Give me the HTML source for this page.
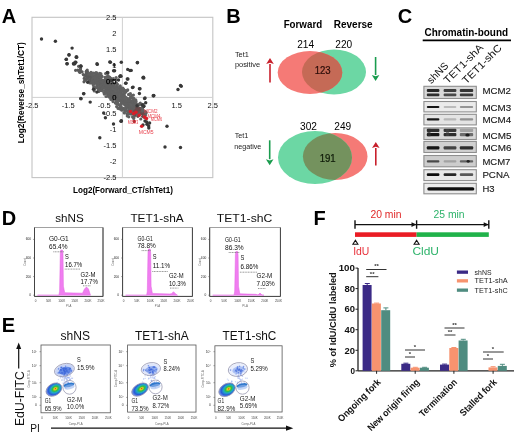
<!DOCTYPE html>
<html><head><meta charset="utf-8"><style>
html,body{margin:0;padding:0;background:#fff;}
body{width:520px;height:442px;overflow:hidden;}
svg{display:block;filter:blur(0.3px);}
text{font-family:"Liberation Sans",sans-serif;}
</style></head><body>
<svg width="520" height="442" viewBox="0 0 520 442">
<text x="1.8" y="23.3" font-size="20" font-weight="bold" fill="#000" text-anchor="start" >A</text>
<text x="226.3" y="23.4" font-size="20" font-weight="bold" fill="#000" text-anchor="start" >B</text>
<text x="397.7" y="23.3" font-size="20" font-weight="bold" fill="#000" text-anchor="start" >C</text>
<text x="1.7" y="224.5" font-size="20" font-weight="bold" fill="#000" text-anchor="start" >D</text>
<text x="1.7" y="331.8" font-size="20" font-weight="bold" fill="#000" text-anchor="start" >E</text>
<text x="313.6" y="224.5" font-size="20" font-weight="bold" fill="#000" text-anchor="start" >F</text>
<rect x="32" y="17.3" width="180.8" height="160.3" fill="none" stroke="#c4c4c4" stroke-width="1.1"/>
<line x1="122.4" y1="17.3" x2="122.4" y2="177.6" stroke="#d0d0d0" stroke-width="1"/>
<line x1="32" y1="97.4" x2="212.8" y2="97.4" stroke="#d0d0d0" stroke-width="1"/>
<text x="32.000000000000014" y="108.2" font-size="7.5" fill="#111" text-anchor="middle" >-2.5</text>
<text x="68.16000000000001" y="108.2" font-size="7.5" fill="#111" text-anchor="middle" >-1.5</text>
<text x="104.32000000000001" y="108.2" font-size="7.5" fill="#111" text-anchor="middle" >-0.5</text>
<text x="140.48000000000002" y="108.2" font-size="7.5" fill="#111" text-anchor="middle" >0.5</text>
<text x="176.64" y="108.2" font-size="7.5" fill="#111" text-anchor="middle" >1.5</text>
<text x="212.8" y="108.2" font-size="7.5" fill="#111" text-anchor="middle" >2.5</text>
<text x="123" y="192.6" font-size="8.5" font-weight="bold" fill="#000" text-anchor="middle" textLength="100" lengthAdjust="spacingAndGlyphs" >Log2(Forward_CT/shTet1)</text>
<g transform="translate(23.8,92.8) rotate(-90)"><text x="0" y="0" font-size="8.5" font-weight="bold" text-anchor="middle" textLength="101" lengthAdjust="spacingAndGlyphs">Log2(Reverse_shTet1/CT)</text></g>
<defs><linearGradient id="cloudG" gradientUnits="userSpaceOnUse" x1="118" y1="100" x2="146" y2="118"><stop offset="0" stop-color="#626262"/><stop offset="0.55" stop-color="#626262"/><stop offset="1" stop-color="#8a3a3a"/></linearGradient></defs>
<polygon points="86.8,72.7 90.3,73.9 93.9,75.1 97.5,76.7 101.0,77.9 104.8,80.1 107.7,81.2 111.4,83.7 116.8,88.6 121.9,92.5 125.4,95.3 130.0,98.5 133.1,101.4 136.3,104.4 139.9,107.5 142.6,110.5 145.5,113.2 145.4,115.4 140.3,114.8 135.4,113.3 130.0,110.6 125.5,107.6 122.9,104.9 120.4,102.8 117.7,100.0 114.3,97.6 110.7,94.8 108.1,92.3 104.7,90.0 101.4,88.0 98.7,87.3 95.5,84.6 92.1,81.2 89.1,77.5 87.2,74.4 86.7,72.4" fill="url(#cloudG)"/>
<circle cx="105.3" cy="77.4" r="1.6" fill="#606060"/>
<circle cx="118.7" cy="87.9" r="1.6" fill="#606060"/>
<circle cx="89.2" cy="74.4" r="1.6" fill="#606060"/>
<circle cx="92.6" cy="80.9" r="1.6" fill="#606060"/>
<circle cx="121.3" cy="89.4" r="1.6" fill="#606060"/>
<circle cx="93.9" cy="75.8" r="1.6" fill="#606060"/>
<circle cx="113.4" cy="84.7" r="1.6" fill="#606060"/>
<circle cx="135.0" cy="104.3" r="1.6" fill="#606060"/>
<circle cx="133.1" cy="98.1" r="1.6" fill="#606060"/>
<circle cx="128.7" cy="99.1" r="1.6" fill="#606060"/>
<circle cx="121.4" cy="92.4" r="1.6" fill="#606060"/>
<circle cx="137.9" cy="116.3" r="1.6" fill="#6a4a4a"/>
<circle cx="95.4" cy="75.7" r="1.6" fill="#606060"/>
<circle cx="93.0" cy="82.1" r="1.6" fill="#606060"/>
<circle cx="136.6" cy="112.3" r="1.6" fill="#6a4a4a"/>
<circle cx="102.4" cy="90.3" r="1.6" fill="#606060"/>
<circle cx="95.9" cy="81.4" r="1.6" fill="#606060"/>
<circle cx="117.4" cy="100.3" r="1.6" fill="#606060"/>
<circle cx="141.7" cy="108.2" r="1.6" fill="#6a4a4a"/>
<circle cx="140.1" cy="109.1" r="1.6" fill="#6a4a4a"/>
<circle cx="109.6" cy="89.5" r="1.6" fill="#606060"/>
<circle cx="88.7" cy="73.3" r="1.6" fill="#606060"/>
<circle cx="98.0" cy="78.0" r="1.6" fill="#606060"/>
<circle cx="100.7" cy="87.0" r="1.6" fill="#606060"/>
<circle cx="114.3" cy="93.7" r="1.6" fill="#606060"/>
<circle cx="90.2" cy="75.0" r="1.6" fill="#606060"/>
<circle cx="106.5" cy="83.0" r="1.6" fill="#606060"/>
<circle cx="139.4" cy="104.1" r="1.6" fill="#6a4a4a"/>
<circle cx="101.3" cy="88.0" r="1.6" fill="#606060"/>
<circle cx="105.6" cy="80.9" r="1.6" fill="#606060"/>
<circle cx="138.7" cy="109.5" r="1.6" fill="#6a4a4a"/>
<circle cx="136.5" cy="106.3" r="1.6" fill="#606060"/>
<circle cx="98.7" cy="81.1" r="1.6" fill="#606060"/>
<circle cx="97.2" cy="80.0" r="1.6" fill="#606060"/>
<circle cx="126.1" cy="109.2" r="1.6" fill="#606060"/>
<circle cx="142.3" cy="108.3" r="1.6" fill="#6a4a4a"/>
<circle cx="92.8" cy="77.4" r="1.6" fill="#606060"/>
<circle cx="142.0" cy="109.5" r="1.6" fill="#6a4a4a"/>
<circle cx="100.7" cy="84.4" r="1.6" fill="#606060"/>
<circle cx="101.2" cy="90.5" r="1.6" fill="#606060"/>
<circle cx="107.2" cy="92.4" r="1.6" fill="#606060"/>
<circle cx="116.5" cy="96.1" r="1.6" fill="#606060"/>
<circle cx="130.6" cy="97.3" r="1.6" fill="#606060"/>
<circle cx="100.5" cy="83.6" r="1.6" fill="#606060"/>
<circle cx="120.3" cy="107.2" r="1.6" fill="#606060"/>
<circle cx="123.5" cy="94.8" r="1.6" fill="#606060"/>
<circle cx="117.2" cy="103.9" r="1.6" fill="#606060"/>
<circle cx="113.4" cy="96.1" r="1.6" fill="#606060"/>
<circle cx="129.0" cy="113.0" r="1.6" fill="#606060"/>
<circle cx="134.3" cy="114.0" r="1.6" fill="#6a4a4a"/>
<circle cx="110.0" cy="93.9" r="1.6" fill="#606060"/>
<circle cx="117.4" cy="86.6" r="1.6" fill="#606060"/>
<circle cx="97.2" cy="85.6" r="1.6" fill="#606060"/>
<circle cx="119.8" cy="91.6" r="1.6" fill="#606060"/>
<circle cx="124.2" cy="95.1" r="1.6" fill="#606060"/>
<circle cx="91.4" cy="83.0" r="1.6" fill="#606060"/>
<circle cx="101.9" cy="76.3" r="1.6" fill="#606060"/>
<circle cx="120.9" cy="104.3" r="1.6" fill="#606060"/>
<circle cx="124.9" cy="109.3" r="1.6" fill="#606060"/>
<circle cx="113.5" cy="86.6" r="1.6" fill="#606060"/>
<circle cx="101.7" cy="76.3" r="1.6" fill="#606060"/>
<circle cx="91.7" cy="77.9" r="1.6" fill="#606060"/>
<circle cx="104.5" cy="84.9" r="1.6" fill="#606060"/>
<circle cx="131.1" cy="97.0" r="1.6" fill="#606060"/>
<circle cx="109.6" cy="94.8" r="1.6" fill="#606060"/>
<circle cx="129.5" cy="101.2" r="1.6" fill="#606060"/>
<circle cx="110.4" cy="87.0" r="1.6" fill="#606060"/>
<circle cx="88.2" cy="76.4" r="1.6" fill="#606060"/>
<circle cx="101.0" cy="78.0" r="1.6" fill="#606060"/>
<circle cx="102.6" cy="81.9" r="1.6" fill="#606060"/>
<circle cx="104.4" cy="87.5" r="1.6" fill="#606060"/>
<circle cx="114.8" cy="94.6" r="1.6" fill="#606060"/>
<circle cx="104.0" cy="81.4" r="1.6" fill="#606060"/>
<circle cx="121.8" cy="95.9" r="1.6" fill="#606060"/>
<circle cx="132.2" cy="102.2" r="1.6" fill="#606060"/>
<circle cx="130.1" cy="113.1" r="1.6" fill="#606060"/>
<circle cx="109.4" cy="86.0" r="1.6" fill="#606060"/>
<circle cx="130.6" cy="101.5" r="1.6" fill="#606060"/>
<circle cx="131.2" cy="109.8" r="1.6" fill="#606060"/>
<circle cx="135.7" cy="110.5" r="1.6" fill="#6a4a4a"/>
<circle cx="128.0" cy="104.0" r="1.6" fill="#606060"/>
<circle cx="120.1" cy="100.8" r="1.6" fill="#606060"/>
<circle cx="124.4" cy="103.4" r="1.6" fill="#606060"/>
<circle cx="135.2" cy="106.7" r="1.6" fill="#606060"/>
<circle cx="116.6" cy="96.2" r="1.6" fill="#606060"/>
<circle cx="116.0" cy="88.7" r="1.6" fill="#606060"/>
<circle cx="133.3" cy="100.2" r="1.6" fill="#606060"/>
<circle cx="94.1" cy="82.4" r="1.6" fill="#606060"/>
<circle cx="127.3" cy="103.9" r="1.6" fill="#606060"/>
<circle cx="117.4" cy="92.8" r="1.6" fill="#606060"/>
<circle cx="113.2" cy="83.2" r="1.6" fill="#606060"/>
<circle cx="113.3" cy="84.8" r="1.6" fill="#606060"/>
<circle cx="93.7" cy="86.9" r="1.6" fill="#606060"/>
<circle cx="108.3" cy="89.3" r="1.6" fill="#606060"/>
<circle cx="107.6" cy="91.0" r="1.6" fill="#606060"/>
<circle cx="100.6" cy="83.0" r="1.6" fill="#606060"/>
<circle cx="140.7" cy="109.8" r="1.6" fill="#6a4a4a"/>
<circle cx="132.4" cy="101.6" r="1.6" fill="#606060"/>
<circle cx="114.6" cy="86.8" r="1.6" fill="#606060"/>
<circle cx="120.0" cy="89.3" r="1.6" fill="#606060"/>
<circle cx="95.4" cy="77.9" r="1.6" fill="#606060"/>
<circle cx="97.0" cy="74.4" r="1.6" fill="#606060"/>
<circle cx="99.9" cy="82.7" r="1.6" fill="#606060"/>
<circle cx="111.0" cy="95.7" r="1.6" fill="#606060"/>
<circle cx="108.6" cy="86.6" r="1.6" fill="#606060"/>
<circle cx="116.6" cy="100.9" r="1.6" fill="#606060"/>
<circle cx="101.9" cy="82.2" r="1.6" fill="#606060"/>
<circle cx="110.1" cy="91.8" r="1.6" fill="#606060"/>
<circle cx="145.1" cy="111.6" r="1.6" fill="#6a4a4a"/>
<circle cx="137.0" cy="111.9" r="1.6" fill="#6a4a4a"/>
<circle cx="91.7" cy="77.6" r="1.6" fill="#606060"/>
<circle cx="117.8" cy="103.4" r="1.6" fill="#606060"/>
<circle cx="125.7" cy="107.5" r="1.6" fill="#606060"/>
<circle cx="113.7" cy="97.0" r="1.6" fill="#606060"/>
<circle cx="92.9" cy="82.3" r="1.6" fill="#606060"/>
<circle cx="125.0" cy="104.2" r="1.6" fill="#606060"/>
<circle cx="91.9" cy="73.4" r="1.6" fill="#606060"/>
<circle cx="117.9" cy="98.6" r="1.6" fill="#606060"/>
<circle cx="109.3" cy="81.0" r="1.6" fill="#606060"/>
<circle cx="103.9" cy="92.6" r="1.6" fill="#606060"/>
<circle cx="99.6" cy="82.1" r="1.6" fill="#606060"/>
<circle cx="116.3" cy="103.0" r="1.6" fill="#606060"/>
<circle cx="111.3" cy="82.6" r="1.6" fill="#606060"/>
<circle cx="106.2" cy="90.6" r="1.6" fill="#606060"/>
<circle cx="135.2" cy="106.2" r="1.6" fill="#606060"/>
<circle cx="98.9" cy="90.4" r="1.6" fill="#606060"/>
<circle cx="141.6" cy="113.3" r="1.6" fill="#6a4a4a"/>
<circle cx="108.4" cy="86.3" r="1.6" fill="#606060"/>
<circle cx="102.5" cy="87.2" r="1.6" fill="#606060"/>
<circle cx="97.0" cy="87.8" r="1.6" fill="#606060"/>
<circle cx="87.0" cy="73.1" r="1.6" fill="#606060"/>
<circle cx="132.0" cy="114.0" r="1.6" fill="#6a4a4a"/>
<circle cx="106.2" cy="83.3" r="1.6" fill="#606060"/>
<circle cx="104.8" cy="83.5" r="1.6" fill="#606060"/>
<circle cx="109.2" cy="82.3" r="1.6" fill="#606060"/>
<circle cx="112.0" cy="94.2" r="1.6" fill="#606060"/>
<circle cx="135.5" cy="106.2" r="1.6" fill="#606060"/>
<circle cx="136.8" cy="107.9" r="1.6" fill="#6a4a4a"/>
<circle cx="105.0" cy="87.7" r="1.6" fill="#606060"/>
<circle cx="99.6" cy="90.4" r="1.6" fill="#606060"/>
<circle cx="124.0" cy="103.0" r="1.6" fill="#606060"/>
<circle cx="132.1" cy="111.5" r="1.6" fill="#606060"/>
<circle cx="120.6" cy="88.3" r="1.6" fill="#606060"/>
<circle cx="100.4" cy="82.0" r="1.6" fill="#606060"/>
<circle cx="135.9" cy="102.0" r="1.6" fill="#606060"/>
<circle cx="137.9" cy="114.8" r="1.6" fill="#6a4a4a"/>
<circle cx="92.3" cy="79.3" r="1.6" fill="#606060"/>
<circle cx="122.5" cy="100.4" r="1.6" fill="#606060"/>
<circle cx="98.6" cy="88.1" r="1.6" fill="#606060"/>
<circle cx="93.7" cy="80.0" r="1.6" fill="#606060"/>
<circle cx="104.5" cy="80.0" r="1.6" fill="#606060"/>
<circle cx="88.8" cy="75.0" r="1.6" fill="#606060"/>
<circle cx="109.8" cy="97.0" r="1.6" fill="#606060"/>
<circle cx="110.7" cy="83.9" r="1.6" fill="#606060"/>
<circle cx="107.4" cy="90.4" r="1.6" fill="#606060"/>
<circle cx="107.8" cy="79.7" r="1.6" fill="#606060"/>
<circle cx="108.2" cy="94.7" r="1.6" fill="#606060"/>
<circle cx="94.0" cy="83.9" r="1.6" fill="#606060"/>
<circle cx="97.3" cy="76.2" r="1.6" fill="#606060"/>
<circle cx="98.6" cy="89.6" r="1.6" fill="#606060"/>
<circle cx="117.5" cy="88.8" r="1.6" fill="#606060"/>
<circle cx="92.6" cy="82.1" r="1.6" fill="#606060"/>
<circle cx="130.6" cy="114.0" r="1.6" fill="#606060"/>
<circle cx="122.7" cy="97.0" r="1.6" fill="#606060"/>
<circle cx="111.3" cy="98.5" r="1.6" fill="#606060"/>
<circle cx="113.0" cy="91.5" r="1.6" fill="#606060"/>
<circle cx="133.1" cy="108.2" r="1.6" fill="#606060"/>
<circle cx="131.2" cy="108.1" r="1.6" fill="#606060"/>
<circle cx="116.6" cy="88.5" r="1.6" fill="#606060"/>
<circle cx="131.1" cy="109.9" r="1.6" fill="#606060"/>
<circle cx="134.6" cy="115.6" r="1.6" fill="#6a4a4a"/>
<circle cx="98.0" cy="82.9" r="1.6" fill="#606060"/>
<circle cx="116.8" cy="85.6" r="1.6" fill="#606060"/>
<circle cx="127.8" cy="113.9" r="1.6" fill="#606060"/>
<circle cx="121.8" cy="102.5" r="1.6" fill="#606060"/>
<circle cx="123.7" cy="91.2" r="1.6" fill="#606060"/>
<circle cx="93.1" cy="81.1" r="1.6" fill="#606060"/>
<circle cx="124.2" cy="93.3" r="1.6" fill="#606060"/>
<circle cx="100.2" cy="77.3" r="1.6" fill="#606060"/>
<circle cx="139.9" cy="108.3" r="1.6" fill="#6a4a4a"/>
<circle cx="110.2" cy="82.9" r="1.6" fill="#606060"/>
<circle cx="120.3" cy="87.2" r="1.6" fill="#606060"/>
<circle cx="125.6" cy="91.7" r="1.6" fill="#606060"/>
<circle cx="110.5" cy="81.6" r="1.6" fill="#606060"/>
<circle cx="116.8" cy="101.4" r="1.6" fill="#606060"/>
<circle cx="104.4" cy="84.7" r="1.6" fill="#606060"/>
<circle cx="134.3" cy="105.1" r="1.6" fill="#606060"/>
<circle cx="99.1" cy="75.2" r="1.6" fill="#606060"/>
<circle cx="128.7" cy="111.4" r="1.6" fill="#606060"/>
<circle cx="119.8" cy="91.4" r="1.6" fill="#606060"/>
<circle cx="101.3" cy="81.6" r="1.6" fill="#606060"/>
<circle cx="124.7" cy="103.9" r="1.6" fill="#606060"/>
<circle cx="128.9" cy="112.0" r="1.6" fill="#606060"/>
<circle cx="106.6" cy="77.0" r="1.6" fill="#606060"/>
<circle cx="128.6" cy="101.1" r="1.6" fill="#606060"/>
<circle cx="128.9" cy="106.1" r="1.6" fill="#606060"/>
<circle cx="136.6" cy="113.7" r="1.6" fill="#6a4a4a"/>
<circle cx="142.6" cy="116.3" r="1.6" fill="#6a4a4a"/>
<circle cx="91.6" cy="80.1" r="1.6" fill="#606060"/>
<circle cx="138.4" cy="109.8" r="1.6" fill="#6a4a4a"/>
<circle cx="124.9" cy="110.4" r="1.6" fill="#606060"/>
<circle cx="91.1" cy="74.8" r="1.6" fill="#606060"/>
<circle cx="105.0" cy="90.8" r="1.6" fill="#606060"/>
<circle cx="108.1" cy="85.7" r="1.6" fill="#606060"/>
<circle cx="102.7" cy="80.5" r="1.6" fill="#606060"/>
<circle cx="129.0" cy="94.4" r="1.6" fill="#606060"/>
<circle cx="128.9" cy="108.6" r="1.6" fill="#606060"/>
<circle cx="110.2" cy="89.3" r="1.6" fill="#606060"/>
<circle cx="97.8" cy="82.9" r="1.6" fill="#606060"/>
<circle cx="132.4" cy="101.7" r="1.6" fill="#606060"/>
<circle cx="106.8" cy="86.0" r="1.6" fill="#606060"/>
<circle cx="126.6" cy="106.4" r="1.6" fill="#606060"/>
<circle cx="133.7" cy="98.4" r="1.6" fill="#606060"/>
<circle cx="96.9" cy="84.8" r="1.6" fill="#606060"/>
<circle cx="129.2" cy="111.3" r="1.6" fill="#606060"/>
<circle cx="94.6" cy="77.6" r="1.6" fill="#606060"/>
<circle cx="100.4" cy="86.0" r="1.6" fill="#606060"/>
<circle cx="105.5" cy="79.3" r="1.6" fill="#606060"/>
<circle cx="91.6" cy="80.1" r="1.6" fill="#606060"/>
<circle cx="128.6" cy="94.5" r="1.6" fill="#606060"/>
<circle cx="124.8" cy="92.7" r="1.6" fill="#606060"/>
<circle cx="121.1" cy="106.7" r="1.6" fill="#606060"/>
<circle cx="111.4" cy="81.2" r="1.6" fill="#606060"/>
<circle cx="130.4" cy="113.1" r="1.6" fill="#606060"/>
<circle cx="133.7" cy="104.3" r="1.6" fill="#606060"/>
<circle cx="125.3" cy="92.2" r="1.6" fill="#606060"/>
<circle cx="134.2" cy="104.9" r="1.6" fill="#606060"/>
<circle cx="111.6" cy="92.3" r="1.6" fill="#606060"/>
<circle cx="124.1" cy="90.1" r="1.6" fill="#606060"/>
<circle cx="119.0" cy="105.1" r="1.6" fill="#606060"/>
<circle cx="117.2" cy="101.3" r="1.6" fill="#606060"/>
<circle cx="102.1" cy="89.6" r="1.6" fill="#606060"/>
<circle cx="107.1" cy="83.0" r="1.6" fill="#606060"/>
<circle cx="109.6" cy="80.4" r="1.6" fill="#606060"/>
<circle cx="136.0" cy="101.1" r="1.6" fill="#606060"/>
<circle cx="114.5" cy="97.5" r="1.6" fill="#606060"/>
<circle cx="136.5" cy="110.0" r="1.6" fill="#6a4a4a"/>
<circle cx="114.4" cy="84.4" r="1.6" fill="#606060"/>
<circle cx="108.6" cy="82.4" r="1.6" fill="#606060"/>
<circle cx="111.7" cy="79.1" r="1.6" fill="#606060"/>
<circle cx="102.6" cy="82.0" r="1.6" fill="#606060"/>
<circle cx="143.5" cy="111.9" r="1.6" fill="#6a4a4a"/>
<circle cx="142.0" cy="108.4" r="1.6" fill="#6a4a4a"/>
<circle cx="91.2" cy="77.0" r="1.6" fill="#606060"/>
<circle cx="106.7" cy="77.5" r="1.6" fill="#606060"/>
<circle cx="141.9" cy="108.8" r="1.6" fill="#6a4a4a"/>
<circle cx="123.2" cy="108.3" r="1.6" fill="#606060"/>
<circle cx="127.0" cy="113.8" r="1.6" fill="#606060"/>
<circle cx="134.6" cy="111.1" r="1.6" fill="#6a4a4a"/>
<circle cx="99.6" cy="76.8" r="1.6" fill="#606060"/>
<circle cx="115.9" cy="94.4" r="1.6" fill="#606060"/>
<circle cx="114.4" cy="97.6" r="1.6" fill="#606060"/>
<circle cx="126.8" cy="111.2" r="1.6" fill="#606060"/>
<circle cx="108.5" cy="90.5" r="1.6" fill="#606060"/>
<circle cx="125.1" cy="101.2" r="1.6" fill="#606060"/>
<circle cx="117.1" cy="93.7" r="1.6" fill="#606060"/>
<circle cx="130.2" cy="100.6" r="1.6" fill="#606060"/>
<circle cx="107.9" cy="93.3" r="1.6" fill="#606060"/>
<circle cx="111.5" cy="97.1" r="1.6" fill="#606060"/>
<circle cx="116.6" cy="83.3" r="1.6" fill="#606060"/>
<circle cx="91.0" cy="72.4" r="1.6" fill="#606060"/>
<circle cx="89.6" cy="74.0" r="1.6" fill="#606060"/>
<circle cx="86.5" cy="71.6" r="1.6" fill="#606060"/>
<circle cx="96.3" cy="74.0" r="1.6" fill="#606060"/>
<circle cx="94.1" cy="73.3" r="1.6" fill="#606060"/>
<circle cx="93.1" cy="73.2" r="1.6" fill="#606060"/>
<circle cx="97.1" cy="73.1" r="1.6" fill="#606060"/>
<circle cx="99.8" cy="73.3" r="1.6" fill="#606060"/>
<circle cx="96.0" cy="72.6" r="1.6" fill="#606060"/>
<circle cx="101.0" cy="73.9" r="1.6" fill="#606060"/>
<circle cx="99.4" cy="75.5" r="1.6" fill="#606060"/>
<circle cx="99.6" cy="74.9" r="1.6" fill="#606060"/>
<circle cx="107.9" cy="75.5" r="1.6" fill="#606060"/>
<circle cx="105.6" cy="73.5" r="1.6" fill="#606060"/>
<circle cx="105.2" cy="77.3" r="1.6" fill="#606060"/>
<circle cx="107.8" cy="78.6" r="1.6" fill="#606060"/>
<circle cx="109.5" cy="77.1" r="1.6" fill="#606060"/>
<circle cx="109.6" cy="77.5" r="1.6" fill="#606060"/>
<circle cx="110.5" cy="78.1" r="1.6" fill="#606060"/>
<circle cx="113.3" cy="78.7" r="1.6" fill="#606060"/>
<circle cx="116.1" cy="77.5" r="1.6" fill="#606060"/>
<circle cx="115.8" cy="83.0" r="1.6" fill="#606060"/>
<circle cx="117.4" cy="84.3" r="1.6" fill="#606060"/>
<circle cx="116.2" cy="80.1" r="1.6" fill="#606060"/>
<circle cx="120.2" cy="85.9" r="1.6" fill="#606060"/>
<circle cx="123.5" cy="89.2" r="1.6" fill="#606060"/>
<circle cx="122.7" cy="90.7" r="1.6" fill="#606060"/>
<circle cx="126.9" cy="90.8" r="1.6" fill="#606060"/>
<circle cx="127.7" cy="89.9" r="1.6" fill="#606060"/>
<circle cx="122.8" cy="88.2" r="1.6" fill="#606060"/>
<circle cx="130.4" cy="93.6" r="1.6" fill="#606060"/>
<circle cx="131.7" cy="95.5" r="1.6" fill="#606060"/>
<circle cx="125.9" cy="90.5" r="1.6" fill="#606060"/>
<circle cx="131.3" cy="98.2" r="1.6" fill="#606060"/>
<circle cx="133.4" cy="95.1" r="1.6" fill="#606060"/>
<circle cx="130.8" cy="97.3" r="1.6" fill="#606060"/>
<circle cx="135.7" cy="99.8" r="1.6" fill="#606060"/>
<circle cx="135.8" cy="103.3" r="1.6" fill="#606060"/>
<circle cx="135.4" cy="101.9" r="1.6" fill="#606060"/>
<circle cx="142.7" cy="104.3" r="1.6" fill="#606060"/>
<circle cx="139.5" cy="104.8" r="1.6" fill="#606060"/>
<circle cx="140.3" cy="103.2" r="1.6" fill="#606060"/>
<circle cx="138.8" cy="104.6" r="1.6" fill="#606060"/>
<circle cx="142.0" cy="108.1" r="1.6" fill="#606060"/>
<circle cx="143.1" cy="106.5" r="1.6" fill="#606060"/>
<circle cx="142.8" cy="109.7" r="1.6" fill="#606060"/>
<circle cx="145.5" cy="112.0" r="1.6" fill="#606060"/>
<circle cx="142.4" cy="111.1" r="1.6" fill="#606060"/>
<circle cx="145.5" cy="115.1" r="1.6" fill="#606060"/>
<circle cx="146.2" cy="112.8" r="1.6" fill="#606060"/>
<circle cx="145.0" cy="117.2" r="1.6" fill="#606060"/>
<circle cx="138.8" cy="114.0" r="1.6" fill="#606060"/>
<circle cx="144.4" cy="117.3" r="1.6" fill="#606060"/>
<circle cx="140.8" cy="119.0" r="1.6" fill="#606060"/>
<circle cx="133.7" cy="118.4" r="1.6" fill="#606060"/>
<circle cx="134.0" cy="116.9" r="1.6" fill="#606060"/>
<circle cx="137.4" cy="114.4" r="1.6" fill="#606060"/>
<circle cx="132.6" cy="116.9" r="1.6" fill="#606060"/>
<circle cx="128.8" cy="116.8" r="1.6" fill="#606060"/>
<circle cx="129.2" cy="113.6" r="1.6" fill="#606060"/>
<circle cx="124.3" cy="112.6" r="1.6" fill="#606060"/>
<circle cx="127.3" cy="115.9" r="1.6" fill="#606060"/>
<circle cx="124.3" cy="112.9" r="1.6" fill="#606060"/>
<circle cx="121.8" cy="110.2" r="1.6" fill="#606060"/>
<circle cx="119.9" cy="108.9" r="1.6" fill="#606060"/>
<circle cx="121.4" cy="108.7" r="1.6" fill="#606060"/>
<circle cx="118.1" cy="108.4" r="1.6" fill="#606060"/>
<circle cx="124.5" cy="109.2" r="1.6" fill="#606060"/>
<circle cx="116.6" cy="106.6" r="1.6" fill="#606060"/>
<circle cx="117.8" cy="103.8" r="1.6" fill="#606060"/>
<circle cx="116.2" cy="100.3" r="1.6" fill="#606060"/>
<circle cx="115.9" cy="103.2" r="1.6" fill="#606060"/>
<circle cx="115.3" cy="102.8" r="1.6" fill="#606060"/>
<circle cx="113.0" cy="101.6" r="1.6" fill="#606060"/>
<circle cx="117.1" cy="100.6" r="1.6" fill="#606060"/>
<circle cx="110.9" cy="99.4" r="1.6" fill="#606060"/>
<circle cx="112.9" cy="99.8" r="1.6" fill="#606060"/>
<circle cx="108.1" cy="96.1" r="1.6" fill="#606060"/>
<circle cx="106.1" cy="96.5" r="1.6" fill="#606060"/>
<circle cx="112.7" cy="96.1" r="1.6" fill="#606060"/>
<circle cx="109.3" cy="97.1" r="1.6" fill="#606060"/>
<circle cx="107.8" cy="92.0" r="1.6" fill="#606060"/>
<circle cx="106.0" cy="93.4" r="1.6" fill="#606060"/>
<circle cx="101.6" cy="89.7" r="1.6" fill="#606060"/>
<circle cx="104.3" cy="94.1" r="1.6" fill="#606060"/>
<circle cx="99.3" cy="89.6" r="1.6" fill="#606060"/>
<circle cx="101.1" cy="90.6" r="1.6" fill="#606060"/>
<circle cx="98.6" cy="91.2" r="1.6" fill="#606060"/>
<circle cx="98.6" cy="91.4" r="1.6" fill="#606060"/>
<circle cx="99.1" cy="90.3" r="1.6" fill="#606060"/>
<circle cx="94.5" cy="88.7" r="1.6" fill="#606060"/>
<circle cx="94.3" cy="90.9" r="1.6" fill="#606060"/>
<circle cx="94.5" cy="87.4" r="1.6" fill="#606060"/>
<circle cx="94.8" cy="87.6" r="1.6" fill="#606060"/>
<circle cx="89.9" cy="83.0" r="1.6" fill="#606060"/>
<circle cx="93.2" cy="84.7" r="1.6" fill="#606060"/>
<circle cx="89.5" cy="81.4" r="1.6" fill="#606060"/>
<circle cx="90.0" cy="81.5" r="1.6" fill="#606060"/>
<circle cx="90.9" cy="82.0" r="1.6" fill="#606060"/>
<circle cx="88.1" cy="78.3" r="1.6" fill="#606060"/>
<circle cx="86.6" cy="76.4" r="1.6" fill="#606060"/>
<circle cx="86.2" cy="79.8" r="1.6" fill="#606060"/>
<circle cx="87.3" cy="74.6" r="1.6" fill="#606060"/>
<circle cx="86.5" cy="71.5" r="1.6" fill="#606060"/>
<circle cx="86.7" cy="74.6" r="1.6" fill="#606060"/>
<circle cx="84.2" cy="75.3" r="1.6" fill="#606060"/>
<circle cx="87.6" cy="72.2" r="1.6" fill="#606060"/>
<circle cx="87.4" cy="71.9" r="1.6" fill="#606060"/>
<circle cx="84.0" cy="81.8" r="1.6" fill="#5a5a5a"/>
<circle cx="75.0" cy="62.0" r="1.6" fill="#5a5a5a"/>
<circle cx="80.4" cy="66.2" r="1.6" fill="#5a5a5a"/>
<circle cx="83.3" cy="74.5" r="1.6" fill="#5a5a5a"/>
<circle cx="89.2" cy="81.0" r="1.6" fill="#5a5a5a"/>
<circle cx="77.8" cy="70.1" r="1.6" fill="#5a5a5a"/>
<circle cx="85.7" cy="75.7" r="1.6" fill="#5a5a5a"/>
<circle cx="73.4" cy="63.4" r="1.6" fill="#5a5a5a"/>
<circle cx="79.2" cy="71.6" r="1.6" fill="#5a5a5a"/>
<circle cx="86.4" cy="71.4" r="1.6" fill="#5a5a5a"/>
<circle cx="80.5" cy="68.7" r="1.6" fill="#5a5a5a"/>
<circle cx="80.4" cy="69.3" r="1.6" fill="#5a5a5a"/>
<circle cx="84.8" cy="80.5" r="1.6" fill="#5a5a5a"/>
<circle cx="87.4" cy="77.0" r="1.6" fill="#5a5a5a"/>
<circle cx="84.2" cy="78.4" r="1.6" fill="#5a5a5a"/>
<circle cx="79.9" cy="72.5" r="1.6" fill="#5a5a5a"/>
<circle cx="81.0" cy="71.6" r="1.6" fill="#5a5a5a"/>
<circle cx="86.2" cy="73.0" r="1.6" fill="#5a5a5a"/>
<circle cx="80.0" cy="70.6" r="1.6" fill="#5a5a5a"/>
<circle cx="87.2" cy="70.0" r="1.6" fill="#5a5a5a"/>
<circle cx="78.6" cy="66.3" r="1.6" fill="#5a5a5a"/>
<circle cx="90.2" cy="77.3" r="1.6" fill="#5a5a5a"/>
<circle cx="86.6" cy="78.4" r="1.6" fill="#5a5a5a"/>
<circle cx="82.1" cy="71.8" r="1.6" fill="#5a5a5a"/>
<circle cx="89.7" cy="80.1" r="1.6" fill="#5a5a5a"/>
<circle cx="75.6" cy="70.3" r="1.6" fill="#5a5a5a"/>
<circle cx="41.5" cy="39" r="1.7" fill="#383838"/>
<circle cx="55.4" cy="41.2" r="1.7" fill="#383838"/>
<circle cx="72.1" cy="48.1" r="1.7" fill="#383838"/>
<circle cx="69" cy="55" r="1.7" fill="#383838"/>
<circle cx="66.2" cy="59.4" r="1.7" fill="#383838"/>
<circle cx="76.2" cy="57" r="1.7" fill="#383838"/>
<circle cx="66.9" cy="63.8" r="1.7" fill="#383838"/>
<circle cx="74.2" cy="63.5" r="1.7" fill="#383838"/>
<circle cx="75.8" cy="62.3" r="1.7" fill="#383838"/>
<circle cx="81" cy="66.2" r="1.7" fill="#383838"/>
<circle cx="97.3" cy="64.4" r="1.7" fill="#383838"/>
<circle cx="109.8" cy="61.9" r="1.7" fill="#383838"/>
<circle cx="121.3" cy="62.3" r="1.7" fill="#383838"/>
<circle cx="114.6" cy="70.8" r="1.7" fill="#383838"/>
<circle cx="107.9" cy="72.7" r="1.7" fill="#383838"/>
<circle cx="119.8" cy="76.5" r="1.7" fill="#383838"/>
<circle cx="118.5" cy="80" r="1.7" fill="#383838"/>
<circle cx="125.6" cy="83.3" r="1.7" fill="#383838"/>
<circle cx="83.8" cy="93.8" r="1.7" fill="#383838"/>
<circle cx="81" cy="98.7" r="1.7" fill="#383838"/>
<circle cx="87.7" cy="82.3" r="1.7" fill="#383838"/>
<circle cx="76.7" cy="57" r="1.7" fill="#383838"/>
<circle cx="74.8" cy="63.7" r="1.7" fill="#383838"/>
<circle cx="97" cy="63.7" r="1.7" fill="#383838"/>
<circle cx="110.4" cy="62.3" r="1.7" fill="#383838"/>
<circle cx="137.3" cy="62.7" r="1.7" fill="#383838"/>
<circle cx="127.7" cy="69.4" r="1.7" fill="#383838"/>
<circle cx="131.2" cy="70.4" r="1.7" fill="#383838"/>
<circle cx="120.4" cy="75.8" r="1.7" fill="#383838"/>
<circle cx="143" cy="77.7" r="1.7" fill="#383838"/>
<circle cx="127.3" cy="79" r="1.7" fill="#383838"/>
<circle cx="111.3" cy="80.4" r="1.7" fill="#383838"/>
<circle cx="153.7" cy="95.8" r="1.7" fill="#383838"/>
<circle cx="90.2" cy="102.1" r="1.7" fill="#383838"/>
<circle cx="121" cy="121.3" r="1.7" fill="#383838"/>
<circle cx="99.8" cy="137.7" r="1.7" fill="#383838"/>
<circle cx="167" cy="126.2" r="1.7" fill="#383838"/>
<circle cx="147" cy="124.2" r="1.7" fill="#383838"/>
<circle cx="148.8" cy="128" r="1.7" fill="#383838"/>
<circle cx="165" cy="147" r="1.7" fill="#383838"/>
<circle cx="180.5" cy="147.5" r="1.7" fill="#383838"/>
<circle cx="178" cy="89.5" r="1.7" fill="#383838"/>
<circle cx="180.5" cy="85.5" r="1.7" fill="#383838"/>
<circle cx="145" cy="121" r="1.7" fill="#383838"/>
<circle cx="143" cy="125" r="1.7" fill="#383838"/>
<circle cx="137.5" cy="62.5" r="1.7" fill="#383838"/>
<circle cx="143.75" cy="78" r="1.7" fill="#383838"/>
<circle cx="132.5" cy="87.5" r="1.7" fill="#383838"/>
<circle cx="140" cy="88.75" r="1.7" fill="#383838"/>
<circle cx="181.25" cy="86.25" r="1.7" fill="#383838"/>
<circle cx="153.75" cy="95.5" r="1.7" fill="#383838"/>
<circle cx="145" cy="98" r="1.7" fill="#383838"/>
<circle cx="130" cy="70.5" r="1.7" fill="#383838"/>
<circle cx="69" cy="54.8" r="1.7" fill="#383838"/>
<circle cx="66.3" cy="59.2" r="1.7" fill="#383838"/>
<circle cx="76.5" cy="57.2" r="1.7" fill="#383838"/>
<circle cx="67.2" cy="63.8" r="1.7" fill="#383838"/>
<circle cx="73.6" cy="64.1" r="1.7" fill="#383838"/>
<circle cx="80.8" cy="65.9" r="1.7" fill="#383838"/>
<circle cx="114.2" cy="65" r="1.7" fill="#383838"/>
<circle cx="113.6" cy="70.8" r="1.7" fill="#383838"/>
<circle cx="107.3" cy="72.5" r="1.7" fill="#383838"/>
<circle cx="93.5" cy="89.2" r="1.7" fill="#383838"/>
<circle cx="96.9" cy="92.1" r="1.7" fill="#383838"/>
<circle cx="83.6" cy="93.6" r="1.7" fill="#383838"/>
<circle cx="80.8" cy="98.4" r="1.7" fill="#383838"/>
<circle cx="121" cy="76.2" r="1.7" fill="#383838"/>
<circle cx="127.9" cy="79" r="1.7" fill="#383838"/>
<circle cx="126.1" cy="83.1" r="1.7" fill="#383838"/>
<circle cx="133.1" cy="87.1" r="1.7" fill="#383838"/>
<circle cx="139.4" cy="88.8" r="1.7" fill="#383838"/>
<circle cx="139.4" cy="93.5" r="1.7" fill="#383838"/>
<circle cx="143.4" cy="77.3" r="1.7" fill="#383838"/>
<circle cx="153.2" cy="95.8" r="1.7" fill="#383838"/>
<circle cx="144.6" cy="98.6" r="1.7" fill="#383838"/>
<circle cx="145.7" cy="102.7" r="1.7" fill="#383838"/>
<circle cx="142.3" cy="105" r="1.7" fill="#383838"/>
<circle cx="121.5" cy="121.1" r="1.7" fill="#383838"/>
<circle cx="113.5" cy="124" r="1.7" fill="#383838"/>
<circle cx="103.7" cy="113" r="1.7" fill="#383838"/>
<circle cx="105.4" cy="117.7" r="1.7" fill="#383838"/>
<circle cx="137.1" cy="105.8" r="1.7" fill="#383838"/>
<circle cx="143.8" cy="106.3" r="1.7" fill="#383838"/>
<circle cx="146.7" cy="122" r="1.7" fill="#383838"/>
<circle cx="149.6" cy="123" r="1.7" fill="#383838"/>
<circle cx="148.7" cy="126" r="1.7" fill="#383838"/>
<circle cx="121.3" cy="120.7" r="1.7" fill="#383838"/>
<circle cx="133.7" cy="113.5" r="1.8" fill="#d81e28"/>
<circle cx="136" cy="112.3" r="1.8" fill="#d81e28"/>
<circle cx="144.6" cy="117" r="1.8" fill="#d81e28"/>
<circle cx="141.7" cy="126.2" r="1.8" fill="#d81e28"/>
<circle cx="130.5" cy="111.5" r="1.8" fill="#d81e28"/>
<circle cx="139.2" cy="115.2" r="1.8" fill="#d81e28"/>
<circle cx="146.5" cy="118.5" r="1.8" fill="#d81e28"/>
<circle cx="134.2" cy="121.5" r="1.7" fill="#a02428"/>
<text x="144" y="113" font-size="5.4" fill="#e8404c" text-anchor="start" textLength="13.5" lengthAdjust="spacingAndGlyphs" >MCM2</text>
<text x="147.4" y="117.8" font-size="5.4" fill="#e8404c" text-anchor="start" textLength="13" lengthAdjust="spacingAndGlyphs" >MCM4</text>
<text x="150.8" y="121.2" font-size="5.4" fill="#e8404c" text-anchor="start" textLength="11.5" lengthAdjust="spacingAndGlyphs" >MCM6</text>
<text x="127.7" y="123.6" font-size="5.4" fill="#e8404c" text-anchor="start" textLength="10.6" lengthAdjust="spacingAndGlyphs" >MCM3</text>
<text x="138.75" y="134.1" font-size="5.4" fill="#e8404c" text-anchor="start" textLength="14.9" lengthAdjust="spacingAndGlyphs" >MCM5</text>
<text x="116.5" y="20.0" font-size="7.5" fill="#111" text-anchor="end" >2.5</text>
<text x="116.5" y="36.03" font-size="7.5" fill="#111" text-anchor="end" >2</text>
<text x="116.5" y="52.06" font-size="7.5" fill="#111" text-anchor="end" >1.5</text>
<text x="116.5" y="68.09" font-size="7.5" fill="#111" text-anchor="end" >1</text>
<text x="116.5" y="84.12" font-size="7.5" fill="#000" text-anchor="end" stroke="#000" stroke-width="0.25">0.5</text>
<text x="116.5" y="100.15" font-size="7.5" fill="#000" text-anchor="end" stroke="#000" stroke-width="0.25">0</text>
<text x="116.5" y="116.18" font-size="7.5" fill="#111" text-anchor="end" >-0.5</text>
<text x="116.5" y="132.21" font-size="7.5" fill="#111" text-anchor="end" >-1</text>
<text x="116.5" y="148.24" font-size="7.5" fill="#111" text-anchor="end" >-1.5</text>
<text x="116.5" y="164.27" font-size="7.5" fill="#111" text-anchor="end" >-2</text>
<text x="116.5" y="180.3" font-size="7.5" fill="#111" text-anchor="end" >-2.5</text>
<text x="302.9" y="28.1" font-size="10" font-weight="bold" fill="#000" text-anchor="middle" textLength="38.5" lengthAdjust="spacingAndGlyphs" >Forward</text>
<text x="353.2" y="28.1" font-size="10" font-weight="bold" fill="#000" text-anchor="middle" textLength="38.9" lengthAdjust="spacingAndGlyphs" >Reverse</text>
<text x="305.6" y="48" font-size="10" fill="#000" text-anchor="middle" textLength="16.9" lengthAdjust="spacingAndGlyphs" >214</text>
<text x="343.7" y="48" font-size="10" fill="#000" text-anchor="middle" textLength="16.9" lengthAdjust="spacingAndGlyphs" >220</text>
<defs><clipPath id="cR1"><ellipse cx="310" cy="72.5" rx="32.3" ry="21.5"/></clipPath><clipPath id="cG2"><ellipse cx="315" cy="157.5" rx="37" ry="26.5"/></clipPath></defs>
<ellipse cx="334" cy="72" rx="32" ry="22.5" fill="#6cd7a4"/>
<ellipse cx="310" cy="72.5" rx="32.3" ry="21.5" fill="#f57a76"/>
<ellipse cx="334" cy="72" rx="32" ry="22.5" fill="#c56a56" clip-path="url(#cR1)"/>
<text x="322.7" y="74.4" font-size="10" fill="#2a0c08" text-anchor="middle" textLength="16" lengthAdjust="spacingAndGlyphs" stroke="#2a0c08" stroke-width="0.2">123</text>
<ellipse cx="335.2" cy="156.5" rx="32.3" ry="23.5" fill="#f57a76"/>
<ellipse cx="315" cy="157.5" rx="37" ry="26.5" fill="#6cd7a4"/>
<ellipse cx="335.2" cy="156.5" rx="32.3" ry="23.5" fill="#74925e" clip-path="url(#cG2)"/>
<text x="308.5" y="130" font-size="10" fill="#000" text-anchor="middle" textLength="16.9" lengthAdjust="spacingAndGlyphs" >302</text>
<text x="342.7" y="130" font-size="10" fill="#000" text-anchor="middle" textLength="16.9" lengthAdjust="spacingAndGlyphs" >249</text>
<text x="327.7" y="162.3" font-size="10" fill="#0e1a08" text-anchor="middle" textLength="16" lengthAdjust="spacingAndGlyphs" stroke="#0e1a08" stroke-width="0.2">191</text>
<text x="234.9" y="57.2" font-size="8" fill="#222" text-anchor="start" textLength="14" lengthAdjust="spacingAndGlyphs" >Tet1</text>
<text x="234.9" y="66.5" font-size="8" fill="#222" text-anchor="start" textLength="25.2" lengthAdjust="spacingAndGlyphs" >positive</text>
<text x="234.7" y="138.2" font-size="8" fill="#222" text-anchor="start" textLength="13.6" lengthAdjust="spacingAndGlyphs" >Tet1</text>
<text x="234.3" y="148.8" font-size="8" fill="#222" text-anchor="start" textLength="27" lengthAdjust="spacingAndGlyphs" >negative</text>
<line x1="270" y1="82.5" x2="270" y2="64" stroke="#c8202c" stroke-width="1.6"/>
<path d="M266.2,64 L270,58 L273.8,64 L270,62.8 Z" fill="#c8202c"/>
<line x1="375.6" y1="57" x2="375.6" y2="75" stroke="#1a9c4e" stroke-width="1.6"/>
<path d="M371.8,75 L375.6,81 L379.40000000000003,75 L375.6,76.2 Z" fill="#1a9c4e"/>
<line x1="269.7" y1="140.3" x2="269.7" y2="159.2" stroke="#1a9c4e" stroke-width="1.6"/>
<path d="M265.9,159.2 L269.7,165.2 L273.5,159.2 L269.7,160.39999999999998 Z" fill="#1a9c4e"/>
<line x1="375.8" y1="165.5" x2="375.8" y2="148" stroke="#c8202c" stroke-width="1.6"/>
<path d="M372.0,148 L375.8,142 L379.6,148 L375.8,146.8 Z" fill="#c8202c"/>
<text x="466.3" y="35.8" font-size="10" font-weight="bold" fill="#000" text-anchor="middle" textLength="83.5" lengthAdjust="spacingAndGlyphs" >Chromatin-bound</text>
<line x1="422.7" y1="40.3" x2="511" y2="40.3" stroke="#000" stroke-width="1.7"/>
<g transform="translate(431.3,84.2) rotate(-45)"><text x="0" y="0" font-size="10.3" fill="#111" textLength="25" lengthAdjust="spacingAndGlyphs">shNS</text></g>
<g transform="translate(447.8,84.2) rotate(-45)"><text x="0" y="0" font-size="10.3" fill="#111" textLength="51" lengthAdjust="spacingAndGlyphs">TET1-shA</text></g>
<g transform="translate(466.3,84.6) rotate(-45)"><text x="0" y="0" font-size="10.3" fill="#111" textLength="51" lengthAdjust="spacingAndGlyphs">TET1-shC</text></g>
<defs><filter id="bl" x="-10%" y="-50%" width="120%" height="200%"><feGaussianBlur stdDeviation="0.45"/></filter></defs>
<rect x="423.9" y="86.3" width="52.4" height="12.200000000000003" fill="#d8d8d8" stroke="#8e8e8e" stroke-width="1.1"/>
<g filter="url(#bl)"><rect x="426.8" y="89.10" width="12.6" height="3.0" rx="1" fill="rgb(40,40,40)"/><rect x="443.6" y="89.10" width="12.8" height="3.0" rx="1" fill="rgb(61,61,61)"/><rect x="459.8" y="89.10" width="13.4" height="3.0" rx="1" fill="rgb(52,52,52)"/><rect x="426.8" y="93.60" width="12.6" height="2.6" rx="1" fill="rgb(46,46,46)"/><rect x="443.6" y="93.60" width="12.8" height="2.6" rx="1" fill="rgb(73,73,73)"/><rect x="459.8" y="93.60" width="13.4" height="2.6" rx="1" fill="rgb(61,61,61)"/></g>
<text x="482.4" y="94.1" font-size="9.9" fill="#1a1a1a" text-anchor="start" textLength="28.5" lengthAdjust="spacingAndGlyphs" stroke="#1a1a1a" stroke-width="0.15">MCM2</text>
<rect x="423.9" y="101.5" width="52.4" height="10.400000000000006" fill="#ebebeb" stroke="#8e8e8e" stroke-width="1.1"/>
<g filter="url(#bl)"><rect x="426.8" y="106.10" width="12.6" height="2.0" rx="1" fill="rgb(25,25,25)"/><rect x="443.6" y="106.10" width="12.8" height="2.0" rx="1" fill="rgb(187,187,187)"/><rect x="459.8" y="106.10" width="13.4" height="2.0" rx="1" fill="rgb(149,149,149)"/></g>
<text x="482.4" y="111.1" font-size="9.9" fill="#1a1a1a" text-anchor="start" textLength="28.8" lengthAdjust="spacingAndGlyphs" stroke="#1a1a1a" stroke-width="0.15">MCM3</text>
<rect x="423.9" y="114.3" width="52.4" height="10.600000000000009" fill="#e4e4e4" stroke="#8e8e8e" stroke-width="1.1"/>
<g filter="url(#bl)"><rect x="426.8" y="118.20" width="12.6" height="2.2" rx="1" fill="rgb(25,25,25)"/><rect x="443.6" y="118.20" width="12.8" height="2.2" rx="1" fill="rgb(183,183,183)"/><rect x="459.8" y="118.20" width="13.4" height="2.2" rx="1" fill="rgb(145,145,145)"/></g>
<text x="482.4" y="123" font-size="9.9" fill="#1a1a1a" text-anchor="start" textLength="28.8" lengthAdjust="spacingAndGlyphs" stroke="#1a1a1a" stroke-width="0.15">MCM4</text>
<rect x="423.9" y="127.9" width="52.4" height="11.599999999999994" fill="#d8d8d8" stroke="#8e8e8e" stroke-width="1.1"/>
<g filter="url(#bl)"><rect x="426.8" y="128.70" width="12.6" height="3.4" rx="1" fill="rgb(46,46,46)"/><rect x="443.6" y="128.70" width="12.8" height="3.4" rx="1" fill="rgb(57,57,57)"/><rect x="459.8" y="128.70" width="13.4" height="3.4" rx="1" fill="rgb(162,162,162)"/><rect x="426.8" y="133.00" width="12.6" height="3.2" rx="1" fill="rgb(25,25,25)"/><rect x="443.6" y="133.00" width="12.8" height="3.2" rx="1" fill="rgb(46,46,46)"/><rect x="459.8" y="133.00" width="13.4" height="3.2" rx="1" fill="rgb(109,109,109)"/><ellipse cx="467.5" cy="134.9" rx="2.2" ry="1.5" fill="#1a1a1a"/><rect x="427.5" y="128.8" width="3" height="7.5" fill="#333" opacity="0.7"/><rect x="446" y="129" width="3" height="7" fill="#444" opacity="0.6"/></g>
<text x="482.4" y="138.5" font-size="9.9" fill="#1a1a1a" text-anchor="start" textLength="29" lengthAdjust="spacingAndGlyphs" stroke="#1a1a1a" stroke-width="0.15">MCM5</text>
<rect x="423.9" y="141.4" width="52.4" height="11.099999999999994" fill="#d0d0d0" stroke="#8e8e8e" stroke-width="1.1"/>
<g filter="url(#bl)"><rect x="426.8" y="146.20" width="12.6" height="3.2" rx="1" fill="rgb(21,21,21)"/><rect x="443.6" y="146.20" width="12.8" height="3.2" rx="1" fill="rgb(67,67,67)"/><rect x="459.8" y="146.20" width="13.4" height="3.2" rx="1" fill="rgb(46,46,46)"/></g>
<text x="482.4" y="150.7" font-size="9.9" fill="#1a1a1a" text-anchor="start" textLength="29" lengthAdjust="spacingAndGlyphs" stroke="#1a1a1a" stroke-width="0.15">MCM6</text>
<rect x="423.9" y="155.5" width="52.4" height="11.300000000000011" fill="#cdcdcd" stroke="#8e8e8e" stroke-width="1.1"/>
<g filter="url(#bl)"><rect x="426.8" y="160.15" width="12.6" height="2.3" rx="1" fill="rgb(73,73,73)"/><rect x="443.6" y="160.15" width="12.8" height="2.3" rx="1" fill="rgb(162,162,162)"/><rect x="459.8" y="160.15" width="13.4" height="2.3" rx="1" fill="rgb(99,99,99)"/><ellipse cx="468.2" cy="161.3" rx="1.6" ry="1.4" fill="#222"/></g>
<text x="482.4" y="164.6" font-size="9.9" fill="#1a1a1a" text-anchor="start" textLength="28" lengthAdjust="spacingAndGlyphs" stroke="#1a1a1a" stroke-width="0.15">MCM7</text>
<rect x="423.9" y="169.7" width="52.4" height="10.900000000000006" fill="#e8e8e8" stroke="#8e8e8e" stroke-width="1.1"/>
<g filter="url(#bl)"><rect x="426.8" y="173.20" width="12.6" height="2.8" rx="1" fill="rgb(15,15,15)"/><rect x="443.6" y="173.20" width="12.8" height="2.8" rx="1" fill="rgb(40,40,40)"/><rect x="459.8" y="173.20" width="13.4" height="2.8" rx="1" fill="rgb(88,88,88)"/></g>
<text x="482.4" y="178.1" font-size="9.9" fill="#1a1a1a" text-anchor="start" textLength="27" lengthAdjust="spacingAndGlyphs" stroke="#1a1a1a" stroke-width="0.15">PCNA</text>
<rect x="423.9" y="183.3" width="52.4" height="10.5" fill="#ebebeb" stroke="#8e8e8e" stroke-width="1.1"/>
<g filter="url(#bl)"><rect x="427.3" y="187.20000000000002" width="47" height="3.4" rx="1.6" fill="#0c0c0c"/></g>
<text x="482.4" y="191.5" font-size="9.9" fill="#1a1a1a" text-anchor="start" textLength="12.1" lengthAdjust="spacingAndGlyphs" stroke="#1a1a1a" stroke-width="0.15">H3</text>
<rect x="34.5" y="227.6" width="68.5" height="68.79999999999998" fill="none" stroke="#8a8a8a" stroke-width="0.8"/>
<path d="M34.5,227.6 L34.5,296.4 L103,296.4 L103,227.6" fill="none" stroke="#444" stroke-width="1"/>
<text x="55.2" y="221.6" font-size="11.5" fill="#111" text-anchor="start" textLength="28.5" lengthAdjust="spacingAndGlyphs" >shNS</text>
<path d="M37.5,295.2 L58.9,295.2 L59.6,291.2 L60.3,253 L60.8,250 L62.5,250 L63.0,254 L63.4,286.2 L64.7,292.7 L82.5,293.2 L84.5,289 L86.5,287 L88.5,289 L90.5,295.2 Z" fill="#f07ef0" stroke="#e060e0" stroke-width="0.5"/>
<text x="31.0" y="240.4" font-size="3.2" fill="#222" text-anchor="end" >600</text>
<line x1="33.0" y1="239.4" x2="34.5" y2="239.4" stroke="#555" stroke-width="0.5"/>
<text x="31.0" y="259.0" font-size="3.2" fill="#222" text-anchor="end" >400</text>
<line x1="33.0" y1="258.0" x2="34.5" y2="258.0" stroke="#555" stroke-width="0.5"/>
<text x="31.0" y="277.6" font-size="3.2" fill="#222" text-anchor="end" >200</text>
<line x1="33.0" y1="276.6" x2="34.5" y2="276.6" stroke="#555" stroke-width="0.5"/>
<text x="31.0" y="296.2" font-size="3.2" fill="#222" text-anchor="end" >0</text>
<line x1="33.0" y1="295.2" x2="34.5" y2="295.2" stroke="#555" stroke-width="0.5"/>
<text x="35.5" y="302.4" font-size="3" fill="#444" text-anchor="middle" >0</text>
<text x="48.6" y="302.4" font-size="3" fill="#444" text-anchor="middle" >50K</text>
<text x="61.7" y="302.4" font-size="3" fill="#444" text-anchor="middle" >100K</text>
<text x="74.8" y="302.4" font-size="3" fill="#444" text-anchor="middle" >150K</text>
<text x="87.9" y="302.4" font-size="3" fill="#444" text-anchor="middle" >200K</text>
<text x="101.0" y="302.4" font-size="3" fill="#444" text-anchor="middle" >250K</text>
<text x="68.75" y="306.9" font-size="2.8" fill="#666" text-anchor="middle" >PI-A</text>
<g transform="translate(25.5,262.0) rotate(-90)"><text x="0" y="0" font-size="2.8" fill="#666" text-anchor="middle">Count</text></g>
<text x="49" y="241.29999999999998" font-size="6.9" fill="#111" text-anchor="start" textLength="19.7" lengthAdjust="spacingAndGlyphs" >G0-G1</text>
<text x="49" y="249.2" font-size="6.9" fill="#111" text-anchor="start" textLength="18.5" lengthAdjust="spacingAndGlyphs" >65.4%</text>
<text x="65.1" y="259.4" font-size="6.9" fill="#111" text-anchor="start" textLength="3.8" lengthAdjust="spacingAndGlyphs" >S</text>
<text x="65.1" y="266.5" font-size="6.9" fill="#111" text-anchor="start" textLength="17.1" lengthAdjust="spacingAndGlyphs" >16.7%</text>
<text x="80.6" y="276.5" font-size="6.9" fill="#111" text-anchor="start" textLength="14.9" lengthAdjust="spacingAndGlyphs" >G2-M</text>
<text x="80.6" y="284.09999999999997" font-size="6.9" fill="#111" text-anchor="start" textLength="17.3" lengthAdjust="spacingAndGlyphs" >17.7%</text>
<rect x="122.6" y="227.6" width="69.80000000000001" height="68.79999999999998" fill="none" stroke="#8a8a8a" stroke-width="0.8"/>
<path d="M122.6,227.6 L122.6,296.4 L192.4,296.4 L192.4,227.6" fill="none" stroke="#444" stroke-width="1"/>
<text x="130.4" y="221.6" font-size="11.5" fill="#111" text-anchor="start" textLength="53.2" lengthAdjust="spacingAndGlyphs" >TET1-shA</text>
<path d="M125.6,295.2 L146.6,295.2 L147.29999999999998,291.2 L148.0,252 L148.5,249 L150.2,249 L150.7,253 L151.1,286.2 L152.39999999999998,293.4 L169.5,293.9 L171.5,293.7 L173.5,291.7 L175.5,293.7 L177.5,295.2 Z" fill="#f07ef0" stroke="#e060e0" stroke-width="0.5"/>
<text x="119.1" y="240.4" font-size="3.2" fill="#222" text-anchor="end" >600</text>
<line x1="121.1" y1="239.4" x2="122.6" y2="239.4" stroke="#555" stroke-width="0.5"/>
<text x="119.1" y="259.0" font-size="3.2" fill="#222" text-anchor="end" >400</text>
<line x1="121.1" y1="258.0" x2="122.6" y2="258.0" stroke="#555" stroke-width="0.5"/>
<text x="119.1" y="277.6" font-size="3.2" fill="#222" text-anchor="end" >200</text>
<line x1="121.1" y1="276.6" x2="122.6" y2="276.6" stroke="#555" stroke-width="0.5"/>
<text x="119.1" y="296.2" font-size="3.2" fill="#222" text-anchor="end" >0</text>
<line x1="121.1" y1="295.2" x2="122.6" y2="295.2" stroke="#555" stroke-width="0.5"/>
<text x="123.6" y="302.4" font-size="3" fill="#444" text-anchor="middle" >0</text>
<text x="136.96" y="302.4" font-size="3" fill="#444" text-anchor="middle" >50K</text>
<text x="150.32" y="302.4" font-size="3" fill="#444" text-anchor="middle" >100K</text>
<text x="163.68" y="302.4" font-size="3" fill="#444" text-anchor="middle" >150K</text>
<text x="177.04000000000002" y="302.4" font-size="3" fill="#444" text-anchor="middle" >200K</text>
<text x="190.4" y="302.4" font-size="3" fill="#444" text-anchor="middle" >250K</text>
<text x="157.5" y="306.9" font-size="2.8" fill="#666" text-anchor="middle" >PI-A</text>
<g transform="translate(113.6,262.0) rotate(-90)"><text x="0" y="0" font-size="2.8" fill="#666" text-anchor="middle">Count</text></g>
<text x="137.5" y="240.79999999999998" font-size="6.9" fill="#111" text-anchor="start" textLength="15.2" lengthAdjust="spacingAndGlyphs" >G0-G1</text>
<text x="137.5" y="248.39999999999998" font-size="6.9" fill="#111" text-anchor="start" textLength="18.3" lengthAdjust="spacingAndGlyphs" >78.8%</text>
<text x="152.7" y="259.4" font-size="6.9" fill="#111" text-anchor="start" textLength="3.8" lengthAdjust="spacingAndGlyphs" >S</text>
<text x="152.7" y="268.2" font-size="6.9" fill="#111" text-anchor="start" textLength="17.3" lengthAdjust="spacingAndGlyphs" >11.1%</text>
<text x="168.9" y="277.59999999999997" font-size="6.9" fill="#111" text-anchor="start" textLength="14.7" lengthAdjust="spacingAndGlyphs" >G2-M</text>
<text x="168.9" y="285.5" font-size="6.9" fill="#111" text-anchor="start" textLength="17.1" lengthAdjust="spacingAndGlyphs" >10.3%</text>
<rect x="209.7" y="227.6" width="70.69999999999999" height="68.79999999999998" fill="none" stroke="#8a8a8a" stroke-width="0.8"/>
<path d="M209.7,227.6 L209.7,296.4 L280.4,296.4 L280.4,227.6" fill="none" stroke="#444" stroke-width="1"/>
<text x="216.8" y="221.6" font-size="11.5" fill="#111" text-anchor="start" textLength="55.5" lengthAdjust="spacingAndGlyphs" >TET1-shC</text>
<path d="M212.7,295.2 L234.0,295.2 L234.7,291.2 L235.4,254.5 L235.9,251.5 L237.6,251.5 L238.1,255.5 L238.5,286.2 L239.79999999999998,293.8 L256,294.3 L258,295 L260,293 L262,295 L264,295.2 Z" fill="#f07ef0" stroke="#e060e0" stroke-width="0.5"/>
<text x="206.2" y="240.4" font-size="3.2" fill="#222" text-anchor="end" >600</text>
<line x1="208.2" y1="239.4" x2="209.7" y2="239.4" stroke="#555" stroke-width="0.5"/>
<text x="206.2" y="259.0" font-size="3.2" fill="#222" text-anchor="end" >400</text>
<line x1="208.2" y1="258.0" x2="209.7" y2="258.0" stroke="#555" stroke-width="0.5"/>
<text x="206.2" y="277.6" font-size="3.2" fill="#222" text-anchor="end" >200</text>
<line x1="208.2" y1="276.6" x2="209.7" y2="276.6" stroke="#555" stroke-width="0.5"/>
<text x="206.2" y="296.2" font-size="3.2" fill="#222" text-anchor="end" >0</text>
<line x1="208.2" y1="295.2" x2="209.7" y2="295.2" stroke="#555" stroke-width="0.5"/>
<text x="210.7" y="302.4" font-size="3" fill="#444" text-anchor="middle" >0</text>
<text x="224.23999999999998" y="302.4" font-size="3" fill="#444" text-anchor="middle" >50K</text>
<text x="237.77999999999997" y="302.4" font-size="3" fill="#444" text-anchor="middle" >100K</text>
<text x="251.32" y="302.4" font-size="3" fill="#444" text-anchor="middle" >150K</text>
<text x="264.85999999999996" y="302.4" font-size="3" fill="#444" text-anchor="middle" >200K</text>
<text x="278.4" y="302.4" font-size="3" fill="#444" text-anchor="middle" >250K</text>
<text x="245.04999999999998" y="306.9" font-size="2.8" fill="#666" text-anchor="middle" >PI-A</text>
<g transform="translate(200.7,262.0) rotate(-90)"><text x="0" y="0" font-size="2.8" fill="#666" text-anchor="middle">Count</text></g>
<text x="225" y="242.0" font-size="6.9" fill="#111" text-anchor="start" textLength="15.6" lengthAdjust="spacingAndGlyphs" >G0-G1</text>
<text x="225" y="249.89999999999998" font-size="6.9" fill="#111" text-anchor="start" textLength="18.7" lengthAdjust="spacingAndGlyphs" >86.3%</text>
<text x="240.6" y="260.2" font-size="6.9" fill="#111" text-anchor="start" textLength="3.8" lengthAdjust="spacingAndGlyphs" >S</text>
<text x="240.6" y="269.3" font-size="6.9" fill="#111" text-anchor="start" textLength="17.8" lengthAdjust="spacingAndGlyphs" >6.86%</text>
<text x="256.6" y="278.4" font-size="6.9" fill="#111" text-anchor="start" textLength="15.7" lengthAdjust="spacingAndGlyphs" >G2-M</text>
<text x="256.6" y="286.0" font-size="6.9" fill="#111" text-anchor="start" textLength="18.1" lengthAdjust="spacingAndGlyphs" >7.03%</text>
<line x1="53.3" y1="251.8" x2="64" y2="251.8" stroke="#666" stroke-width="0.7" stroke-dasharray="1,0.6"/>
<line x1="64.7" y1="269.1" x2="80.6" y2="269.1" stroke="#666" stroke-width="0.7" stroke-dasharray="1,0.6"/>
<line x1="83" y1="285.8" x2="91" y2="285.8" stroke="#666" stroke-width="0.7" stroke-dasharray="1,0.6"/>
<line x1="141.6" y1="250.6" x2="151" y2="250.6" stroke="#666" stroke-width="0.7" stroke-dasharray="1,0.6"/>
<line x1="152.3" y1="271.5" x2="167.7" y2="271.5" stroke="#666" stroke-width="0.7" stroke-dasharray="1,0.6"/>
<line x1="170" y1="288.1" x2="178.4" y2="288.1" stroke="#666" stroke-width="0.7" stroke-dasharray="1,0.6"/>
<line x1="228.7" y1="252.5" x2="239.4" y2="252.5" stroke="#666" stroke-width="0.7" stroke-dasharray="1,0.6"/>
<line x1="239.9" y1="272.2" x2="257.2" y2="272.2" stroke="#666" stroke-width="0.7" stroke-dasharray="1,0.6"/>
<line x1="258" y1="288.5" x2="266" y2="288.5" stroke="#666" stroke-width="0.7" stroke-dasharray="1,0.6"/>
<defs>
<filter id="eb" x="-20%" y="-20%" width="140%" height="140%"><feGaussianBlur stdDeviation="0.5"/></filter>
<radialGradient id="gG1" cx="0.6" cy="0.5" r="0.6"><stop offset="0" stop-color="#d8281a"/><stop offset="0.12" stop-color="#e8d020"/><stop offset="0.3" stop-color="#30c040"/><stop offset="0.5" stop-color="#20a8c8"/><stop offset="0.75" stop-color="#2a5ad8"/><stop offset="1" stop-color="#8aa4ec"/></radialGradient>
</defs>
<rect x="41" y="345" width="69.3" height="67.80000000000001" fill="none" stroke="#555" stroke-width="0.8"/>
<text x="60.5" y="340.4" font-size="12" fill="#111" text-anchor="start" textLength="29.5" lengthAdjust="spacingAndGlyphs" >shNS</text>
<g filter="url(#eb)"><circle cx="70.3" cy="371.4" r="0.7" fill="#7f9ae8" opacity="0.45"/><circle cx="70.5" cy="373.5" r="0.7" fill="#7f9ae8" opacity="0.45"/><circle cx="64.1" cy="379.7" r="0.7" fill="#7f9ae8" opacity="0.45"/><circle cx="69.9" cy="370.6" r="0.7" fill="#7f9ae8" opacity="0.45"/><circle cx="69.3" cy="371.6" r="0.7" fill="#7f9ae8" opacity="0.45"/><circle cx="67.3" cy="379.2" r="0.7" fill="#7f9ae8" opacity="0.45"/><circle cx="69.4" cy="378.0" r="0.7" fill="#7f9ae8" opacity="0.45"/><circle cx="69.2" cy="385.9" r="0.7" fill="#7f9ae8" opacity="0.45"/><circle cx="69.6" cy="384.5" r="0.7" fill="#7f9ae8" opacity="0.45"/><circle cx="65.7" cy="386.9" r="0.7" fill="#7f9ae8" opacity="0.45"/><circle cx="65.3" cy="384.4" r="0.7" fill="#7f9ae8" opacity="0.45"/><circle cx="67.8" cy="385.4" r="0.7" fill="#7f9ae8" opacity="0.45"/><circle cx="66.3" cy="375.1" r="0.7" fill="#7f9ae8" opacity="0.45"/><circle cx="69.1" cy="384.9" r="0.7" fill="#7f9ae8" opacity="0.45"/><circle cx="67.9" cy="383.8" r="0.7" fill="#7f9ae8" opacity="0.45"/><circle cx="72.5" cy="378.3" r="0.7" fill="#7f9ae8" opacity="0.45"/><circle cx="64.8" cy="375.0" r="0.7" fill="#7f9ae8" opacity="0.45"/><circle cx="66.7" cy="376.2" r="0.7" fill="#7f9ae8" opacity="0.45"/><circle cx="67.0" cy="377.5" r="0.7" fill="#7f9ae8" opacity="0.45"/><circle cx="71.2" cy="372.1" r="0.7" fill="#7f9ae8" opacity="0.45"/><circle cx="64.8" cy="384.9" r="0.7" fill="#7f9ae8" opacity="0.45"/><circle cx="67.9" cy="385.1" r="0.7" fill="#7f9ae8" opacity="0.45"/><circle cx="67.2" cy="382.6" r="0.7" fill="#7f9ae8" opacity="0.45"/><circle cx="62.7" cy="374.1" r="0.7" fill="#7f9ae8" opacity="0.45"/><circle cx="67.5" cy="382.0" r="0.7" fill="#7f9ae8" opacity="0.45"/><circle cx="69.2" cy="377.3" r="0.7" fill="#7f9ae8" opacity="0.45"/><circle cx="66.8" cy="374.9" r="0.7" fill="#7f9ae8" opacity="0.45"/><circle cx="70.0" cy="380.0" r="0.7" fill="#7f9ae8" opacity="0.45"/><circle cx="64.8" cy="374.9" r="0.7" fill="#7f9ae8" opacity="0.45"/><circle cx="68.3" cy="372.9" r="0.7" fill="#7f9ae8" opacity="0.45"/><circle cx="66.0" cy="375.5" r="0.7" fill="#7f9ae8" opacity="0.45"/><circle cx="69.9" cy="374.9" r="0.7" fill="#7f9ae8" opacity="0.45"/><circle cx="65.3" cy="383.7" r="0.7" fill="#7f9ae8" opacity="0.45"/><circle cx="68.5" cy="382.8" r="0.7" fill="#7f9ae8" opacity="0.45"/><circle cx="64.6" cy="377.6" r="0.7" fill="#7f9ae8" opacity="0.45"/><circle cx="66.9" cy="378.8" r="0.7" fill="#7f9ae8" opacity="0.45"/><circle cx="65.3" cy="373.8" r="0.7" fill="#7f9ae8" opacity="0.45"/><circle cx="69.5" cy="380.2" r="0.7" fill="#7f9ae8" opacity="0.45"/><circle cx="67.7" cy="386.2" r="0.7" fill="#7f9ae8" opacity="0.45"/><circle cx="66.1" cy="381.4" r="0.7" fill="#7f9ae8" opacity="0.45"/><circle cx="67.7" cy="374.5" r="0.7" fill="#7f9ae8" opacity="0.45"/><circle cx="69.1" cy="370.4" r="0.7" fill="#7f9ae8" opacity="0.45"/><circle cx="65.7" cy="371.8" r="0.7" fill="#7f9ae8" opacity="0.45"/><circle cx="68.7" cy="383.2" r="0.7" fill="#7f9ae8" opacity="0.45"/><circle cx="67.4" cy="386.0" r="0.7" fill="#7f9ae8" opacity="0.45"/><circle cx="65.5" cy="377.0" r="0.7" fill="#7f9ae8" opacity="0.45"/><circle cx="69.9" cy="379.2" r="0.7" fill="#7f9ae8" opacity="0.45"/><circle cx="67.2" cy="377.3" r="0.7" fill="#7f9ae8" opacity="0.45"/><circle cx="63.7" cy="383.4" r="0.7" fill="#7f9ae8" opacity="0.45"/><circle cx="68.5" cy="382.0" r="0.7" fill="#7f9ae8" opacity="0.45"/><circle cx="71.2" cy="385.1" r="0.7" fill="#7f9ae8" opacity="0.45"/><circle cx="61.9" cy="380.2" r="0.7" fill="#7f9ae8" opacity="0.45"/><circle cx="64.2" cy="380.8" r="0.7" fill="#7f9ae8" opacity="0.45"/><circle cx="65.8" cy="384.5" r="0.7" fill="#7f9ae8" opacity="0.45"/><circle cx="64.1" cy="378.2" r="0.7" fill="#7f9ae8" opacity="0.45"/><circle cx="65.3" cy="375.9" r="0.7" fill="#7f9ae8" opacity="0.45"/><circle cx="65.8" cy="378.2" r="0.7" fill="#7f9ae8" opacity="0.45"/><circle cx="65.1" cy="384.7" r="0.7" fill="#7f9ae8" opacity="0.45"/><circle cx="67.1" cy="373.7" r="0.7" fill="#7f9ae8" opacity="0.45"/><circle cx="66.7" cy="379.7" r="0.7" fill="#7f9ae8" opacity="0.45"/><circle cx="65.6" cy="387.6" r="0.7" fill="#7f9ae8" opacity="0.45"/><circle cx="68.9" cy="384.3" r="0.7" fill="#7f9ae8" opacity="0.45"/><circle cx="67.8" cy="377.3" r="0.7" fill="#7f9ae8" opacity="0.45"/><circle cx="65.1" cy="370.4" r="0.7" fill="#7f9ae8" opacity="0.45"/><circle cx="67.9" cy="384.7" r="0.7" fill="#7f9ae8" opacity="0.45"/><circle cx="64.9" cy="387.1" r="0.7" fill="#7f9ae8" opacity="0.45"/><circle cx="65.9" cy="382.5" r="0.7" fill="#7f9ae8" opacity="0.45"/><circle cx="64.3" cy="382.2" r="0.7" fill="#7f9ae8" opacity="0.45"/><circle cx="66.5" cy="381.6" r="0.7" fill="#7f9ae8" opacity="0.45"/><circle cx="65.2" cy="377.2" r="0.7" fill="#7f9ae8" opacity="0.45"/><circle cx="71.6" cy="378.2" r="0.7" fill="#7f9ae8" opacity="0.45"/><circle cx="64.6" cy="378.9" r="0.7" fill="#7f9ae8" opacity="0.45"/><circle cx="66.0" cy="388.3" r="0.7" fill="#7f9ae8" opacity="0.45"/><circle cx="68.4" cy="384.9" r="0.7" fill="#7f9ae8" opacity="0.45"/><circle cx="68.7" cy="385.9" r="0.7" fill="#7f9ae8" opacity="0.45"/><circle cx="70.2" cy="371.0" r="0.7" fill="#7f9ae8" opacity="0.45"/><circle cx="72.1" cy="384.1" r="0.7" fill="#7f9ae8" opacity="0.45"/><circle cx="68.5" cy="378.0" r="0.7" fill="#7f9ae8" opacity="0.45"/><circle cx="66.1" cy="378.8" r="0.7" fill="#7f9ae8" opacity="0.45"/><circle cx="65.5" cy="372.2" r="0.7" fill="#7f9ae8" opacity="0.45"/><circle cx="70.6" cy="376.1" r="0.7" fill="#7f9ae8" opacity="0.45"/><circle cx="64.2" cy="371.7" r="0.7" fill="#7f9ae8" opacity="0.45"/><circle cx="67.4" cy="375.2" r="0.7" fill="#7f9ae8" opacity="0.45"/><circle cx="69.1" cy="374.2" r="0.7" fill="#7f9ae8" opacity="0.45"/><circle cx="68.3" cy="382.7" r="0.7" fill="#7f9ae8" opacity="0.45"/><circle cx="67.2" cy="381.0" r="0.7" fill="#7f9ae8" opacity="0.45"/><circle cx="70.4" cy="379.2" r="0.7" fill="#7f9ae8" opacity="0.45"/><circle cx="68.4" cy="377.5" r="0.7" fill="#7f9ae8" opacity="0.45"/><circle cx="68.3" cy="383.4" r="0.7" fill="#7f9ae8" opacity="0.45"/><circle cx="63.4" cy="372.7" r="0.7" fill="#7f9ae8" opacity="0.45"/><circle cx="60.6" cy="377.1" r="0.7" fill="#8aa2ea" opacity="0.4"/><circle cx="54.3" cy="388.0" r="0.7" fill="#8aa2ea" opacity="0.4"/><circle cx="60.5" cy="376.3" r="0.7" fill="#8aa2ea" opacity="0.4"/><circle cx="61.1" cy="386.3" r="0.7" fill="#8aa2ea" opacity="0.4"/><circle cx="58.4" cy="379.5" r="0.7" fill="#8aa2ea" opacity="0.4"/><circle cx="62.9" cy="383.1" r="0.7" fill="#8aa2ea" opacity="0.4"/><circle cx="62.6" cy="377.8" r="0.7" fill="#8aa2ea" opacity="0.4"/><circle cx="60.4" cy="377.9" r="0.7" fill="#8aa2ea" opacity="0.4"/><circle cx="65.0" cy="370.3" r="0.7" fill="#8aa2ea" opacity="0.4"/><circle cx="64.2" cy="370.8" r="0.7" fill="#8aa2ea" opacity="0.4"/><circle cx="63.1" cy="377.4" r="0.7" fill="#8aa2ea" opacity="0.4"/><circle cx="64.0" cy="372.5" r="0.7" fill="#8aa2ea" opacity="0.4"/><circle cx="61.8" cy="376.8" r="0.7" fill="#8aa2ea" opacity="0.4"/><circle cx="58.7" cy="372.7" r="0.7" fill="#8aa2ea" opacity="0.4"/><circle cx="57.5" cy="386.1" r="0.7" fill="#8aa2ea" opacity="0.4"/><circle cx="57.9" cy="385.7" r="0.7" fill="#8aa2ea" opacity="0.4"/><circle cx="62.1" cy="379.8" r="0.7" fill="#8aa2ea" opacity="0.4"/><circle cx="57.2" cy="382.4" r="0.7" fill="#8aa2ea" opacity="0.4"/><circle cx="56.3" cy="385.9" r="0.7" fill="#8aa2ea" opacity="0.4"/><circle cx="57.2" cy="385.9" r="0.7" fill="#8aa2ea" opacity="0.4"/><circle cx="60.0" cy="385.4" r="0.7" fill="#8aa2ea" opacity="0.4"/><circle cx="59.7" cy="384.9" r="0.7" fill="#8aa2ea" opacity="0.4"/><circle cx="54.3" cy="390.6" r="0.7" fill="#8aa2ea" opacity="0.4"/><circle cx="50.8" cy="388.1" r="0.7" fill="#8aa2ea" opacity="0.4"/><circle cx="63.6" cy="375.0" r="0.7" fill="#8aa2ea" opacity="0.4"/><ellipse cx="64.4" cy="370" rx="9.69" ry="5.67" transform="rotate(-15,64.4,370)" fill="#b8c8f4" opacity="0.7999999999999999"/><ellipse cx="64.9" cy="370.8" rx="6.63" ry="3.4650000000000003" transform="rotate(-15,64.4,370)" fill="#5a84e6" opacity="0.8999999999999999"/><circle cx="63.7" cy="368.1" r="0.8" fill="#3a64d8" opacity="0.6"/><circle cx="67.0" cy="370.1" r="0.8" fill="#3a64d8" opacity="0.6"/><circle cx="69.2" cy="369.6" r="0.8" fill="#3a64d8" opacity="0.6"/><circle cx="65.1" cy="373.2" r="0.8" fill="#3a64d8" opacity="0.6"/><circle cx="68.8" cy="373.2" r="0.8" fill="#3a64d8" opacity="0.6"/><circle cx="63.9" cy="374.9" r="0.8" fill="#3a64d8" opacity="0.6"/><circle cx="60.9" cy="369.3" r="0.8" fill="#3a64d8" opacity="0.6"/><circle cx="64.5" cy="373.8" r="0.8" fill="#3a64d8" opacity="0.6"/><circle cx="66.1" cy="374.7" r="0.8" fill="#3a64d8" opacity="0.6"/><circle cx="68.1" cy="372.6" r="0.8" fill="#3a64d8" opacity="0.6"/><circle cx="61.2" cy="370.0" r="0.8" fill="#3a64d8" opacity="0.6"/><circle cx="65.0" cy="368.1" r="0.8" fill="#3a64d8" opacity="0.6"/><circle cx="61.4" cy="367.8" r="0.8" fill="#3a64d8" opacity="0.6"/><circle cx="62.8" cy="372.8" r="0.8" fill="#3a64d8" opacity="0.6"/><circle cx="66.5" cy="371.2" r="0.8" fill="#3a64d8" opacity="0.6"/><circle cx="66.6" cy="368.8" r="0.8" fill="#3a64d8" opacity="0.6"/><circle cx="63.5" cy="369.6" r="0.8" fill="#3a64d8" opacity="0.6"/><circle cx="60.7" cy="369.6" r="0.8" fill="#3a64d8" opacity="0.6"/><circle cx="60.9" cy="370.5" r="0.8" fill="#3a64d8" opacity="0.6"/><circle cx="67.7" cy="371.3" r="0.8" fill="#3a64d8" opacity="0.6"/><circle cx="64.7" cy="371.6" r="0.8" fill="#3a64d8" opacity="0.6"/><circle cx="63.7" cy="368.6" r="0.8" fill="#3a64d8" opacity="0.6"/><circle cx="58.1" cy="373.0" r="0.8" fill="#3a64d8" opacity="0.6"/><circle cx="65.6" cy="366.2" r="0.8" fill="#3a64d8" opacity="0.6"/><circle cx="65.7" cy="369.6" r="0.8" fill="#3a64d8" opacity="0.6"/><circle cx="64.3" cy="370.9" r="0.8" fill="#3a64d8" opacity="0.6"/><circle cx="61.8" cy="367.3" r="0.8" fill="#3a64d8" opacity="0.6"/><circle cx="61.8" cy="372.5" r="0.8" fill="#3a64d8" opacity="0.6"/><circle cx="61.0" cy="367.4" r="0.8" fill="#3a64d8" opacity="0.6"/><circle cx="64.5" cy="374.7" r="0.8" fill="#3a64d8" opacity="0.6"/><circle cx="60.9" cy="373.2" r="0.8" fill="#3a64d8" opacity="0.6"/><circle cx="65.1" cy="371.4" r="0.8" fill="#3a64d8" opacity="0.6"/><circle cx="70.0" cy="368.5" r="0.8" fill="#3a64d8" opacity="0.6"/><circle cx="64.2" cy="370.0" r="0.8" fill="#3a64d8" opacity="0.6"/><circle cx="66.6" cy="370.8" r="0.8" fill="#3a64d8" opacity="0.6"/><circle cx="65.5" cy="372.4" r="0.8" fill="#3a64d8" opacity="0.6"/><circle cx="63.8" cy="370.8" r="0.8" fill="#3a64d8" opacity="0.6"/><circle cx="62.2" cy="373.7" r="0.8" fill="#3a64d8" opacity="0.6"/><circle cx="67.5" cy="374.3" r="0.8" fill="#3a64d8" opacity="0.6"/><circle cx="58.6" cy="368.9" r="0.8" fill="#3a64d8" opacity="0.6"/><circle cx="64.3" cy="373.1" r="0.8" fill="#3a64d8" opacity="0.6"/><circle cx="62.8" cy="368.4" r="0.8" fill="#3a64d8" opacity="0.6"/><circle cx="71.6" cy="370.5" r="0.8" fill="#3a64d8" opacity="0.6"/><circle cx="65.0" cy="368.6" r="0.8" fill="#3a64d8" opacity="0.6"/><circle cx="71.4" cy="371.6" r="0.8" fill="#3a64d8" opacity="0.6"/><circle cx="63.6" cy="370.2" r="0.8" fill="#3a64d8" opacity="0.6"/><circle cx="64.5" cy="371.5" r="0.8" fill="#3a64d8" opacity="0.6"/><circle cx="65.1" cy="369.0" r="0.8" fill="#3a64d8" opacity="0.6"/><circle cx="70.1" cy="368.5" r="0.8" fill="#3a64d8" opacity="0.6"/><circle cx="69.8" cy="372.4" r="0.8" fill="#3a64d8" opacity="0.6"/><circle cx="59.2" cy="372.9" r="0.8" fill="#3a64d8" opacity="0.6"/><circle cx="66.0" cy="368.8" r="0.8" fill="#3a64d8" opacity="0.6"/><ellipse cx="69.5" cy="384.885" rx="5.609999999999999" ry="2.07" transform="rotate(-12,69.5,387.3)" fill="#2f78cc"/><ellipse cx="69.5" cy="386.955" rx="5.28" ry="2.415" transform="rotate(-12,69.5,387.3)" fill="#9ab8ee" opacity="0.6"/><ellipse cx="53.9" cy="389.6" rx="8.4" ry="6.0" transform="rotate(-30,53.9,389.6)" fill="url(#gG1)"/></g>
<ellipse cx="64.4" cy="370" rx="10.2" ry="6.3" transform="rotate(-15,64.4,370)" fill="none" stroke="#8c8ca8" stroke-width="0.7"/>
<ellipse cx="69.5" cy="387.3" rx="6.6" ry="6.9" transform="rotate(0,69.5,387.3)" fill="none" stroke="#8c8ca8" stroke-width="0.7"/>
<ellipse cx="53.9" cy="389.6" rx="8.4" ry="6.0" transform="rotate(-30,53.9,389.6)" fill="none" stroke="#8c8ca8" stroke-width="0.7"/>
<text x="37" y="352.7" font-size="3.4" fill="#333" text-anchor="end" >10⁵</text>
<line x1="39.5" y1="351.7" x2="41" y2="351.7" stroke="#555" stroke-width="0.5"/>
<text x="37" y="366.7" font-size="3.4" fill="#333" text-anchor="end" >10⁴</text>
<line x1="39.5" y1="365.7" x2="41" y2="365.7" stroke="#555" stroke-width="0.5"/>
<text x="37" y="383.7" font-size="3.4" fill="#333" text-anchor="end" >10³</text>
<line x1="39.5" y1="382.7" x2="41" y2="382.7" stroke="#555" stroke-width="0.5"/>
<text x="37" y="398.4" font-size="3.4" fill="#333" text-anchor="end" >10²</text>
<line x1="39.5" y1="397.4" x2="41" y2="397.4" stroke="#555" stroke-width="0.5"/>
<text x="37" y="406.3" font-size="3.4" fill="#333" text-anchor="end" >0</text>
<line x1="39.5" y1="405.3" x2="41" y2="405.3" stroke="#555" stroke-width="0.5"/>
<text x="42.0" y="418.8" font-size="2.8" fill="#444" text-anchor="middle" >0</text>
<text x="55.26" y="418.8" font-size="2.8" fill="#444" text-anchor="middle" >50K</text>
<text x="68.52" y="418.8" font-size="2.8" fill="#444" text-anchor="middle" >100K</text>
<text x="81.78" y="418.8" font-size="2.8" fill="#444" text-anchor="middle" >150K</text>
<text x="95.03999999999999" y="418.8" font-size="2.8" fill="#444" text-anchor="middle" >200K</text>
<text x="108.3" y="418.8" font-size="2.8" fill="#444" text-anchor="middle" >250K</text>
<text x="75.65" y="424.5" font-size="2.8" fill="#666" text-anchor="middle" >Comp-PI-A</text>
<g transform="translate(30,378.9) rotate(-90)"><text x="0" y="0" font-size="2.8" fill="#666" text-anchor="middle">Comp-FITC-A</text></g>
<text x="77" y="362.3" font-size="6.4" fill="#222" text-anchor="start" textLength="3.8" lengthAdjust="spacingAndGlyphs" >S</text>
<text x="77" y="370.2" font-size="6.4" fill="#222" text-anchor="start" textLength="17.5" lengthAdjust="spacingAndGlyphs" >15.9%</text>
<text x="44.7" y="403" font-size="6.4" fill="#222" text-anchor="start" textLength="6.5" lengthAdjust="spacingAndGlyphs" >G1</text>
<text x="44.7" y="410.5" font-size="6.4" fill="#222" text-anchor="start" textLength="17" lengthAdjust="spacingAndGlyphs" >65.9%</text>
<text x="66.7" y="401.5" font-size="6.4" fill="#222" text-anchor="start" textLength="15.3" lengthAdjust="spacingAndGlyphs" >G2-M</text>
<text x="66.7" y="408.7" font-size="6.4" fill="#222" text-anchor="start" textLength="17.6" lengthAdjust="spacingAndGlyphs" >10.0%</text>
<rect x="127.6" y="345" width="68.4" height="67.10000000000002" fill="none" stroke="#555" stroke-width="0.8"/>
<text x="134.9" y="340.4" font-size="12" fill="#111" text-anchor="start" textLength="53.8" lengthAdjust="spacingAndGlyphs" >TET1-shA</text>
<g filter="url(#eb)"><circle cx="155.7" cy="370.3" r="0.7" fill="#7f9ae8" opacity="0.45"/><circle cx="152.2" cy="384.1" r="0.7" fill="#7f9ae8" opacity="0.45"/><circle cx="151.8" cy="383.1" r="0.7" fill="#7f9ae8" opacity="0.45"/><circle cx="152.8" cy="369.0" r="0.7" fill="#7f9ae8" opacity="0.45"/><circle cx="154.5" cy="377.9" r="0.7" fill="#7f9ae8" opacity="0.45"/><circle cx="156.8" cy="383.1" r="0.7" fill="#7f9ae8" opacity="0.45"/><circle cx="153.3" cy="384.7" r="0.7" fill="#7f9ae8" opacity="0.45"/><circle cx="151.7" cy="385.4" r="0.7" fill="#7f9ae8" opacity="0.45"/><circle cx="155.4" cy="373.8" r="0.7" fill="#7f9ae8" opacity="0.45"/><circle cx="154.1" cy="377.2" r="0.7" fill="#7f9ae8" opacity="0.45"/><circle cx="152.6" cy="370.0" r="0.7" fill="#7f9ae8" opacity="0.45"/><circle cx="153.6" cy="374.5" r="0.7" fill="#7f9ae8" opacity="0.45"/><circle cx="155.4" cy="376.6" r="0.7" fill="#7f9ae8" opacity="0.45"/><circle cx="154.4" cy="374.0" r="0.7" fill="#7f9ae8" opacity="0.45"/><circle cx="151.5" cy="380.7" r="0.7" fill="#7f9ae8" opacity="0.45"/><circle cx="153.6" cy="378.2" r="0.7" fill="#7f9ae8" opacity="0.45"/><circle cx="151.5" cy="380.3" r="0.7" fill="#7f9ae8" opacity="0.45"/><circle cx="154.0" cy="382.3" r="0.7" fill="#7f9ae8" opacity="0.45"/><circle cx="152.5" cy="374.7" r="0.7" fill="#7f9ae8" opacity="0.45"/><circle cx="153.2" cy="370.7" r="0.7" fill="#7f9ae8" opacity="0.45"/><circle cx="152.5" cy="381.7" r="0.7" fill="#7f9ae8" opacity="0.45"/><circle cx="151.5" cy="375.0" r="0.7" fill="#7f9ae8" opacity="0.45"/><circle cx="153.8" cy="372.1" r="0.7" fill="#7f9ae8" opacity="0.45"/><circle cx="153.5" cy="386.3" r="0.7" fill="#7f9ae8" opacity="0.45"/><circle cx="156.3" cy="381.7" r="0.7" fill="#7f9ae8" opacity="0.45"/><circle cx="151.2" cy="371.0" r="0.7" fill="#7f9ae8" opacity="0.45"/><circle cx="153.2" cy="372.4" r="0.7" fill="#7f9ae8" opacity="0.45"/><circle cx="151.6" cy="384.4" r="0.7" fill="#7f9ae8" opacity="0.45"/><circle cx="152.5" cy="385.1" r="0.7" fill="#7f9ae8" opacity="0.45"/><circle cx="153.8" cy="373.6" r="0.7" fill="#7f9ae8" opacity="0.45"/><circle cx="154.5" cy="382.2" r="0.7" fill="#7f9ae8" opacity="0.45"/><circle cx="150.7" cy="370.8" r="0.7" fill="#7f9ae8" opacity="0.45"/><circle cx="155.4" cy="387.1" r="0.7" fill="#7f9ae8" opacity="0.45"/><circle cx="153.4" cy="383.0" r="0.7" fill="#7f9ae8" opacity="0.45"/><circle cx="154.4" cy="371.5" r="0.7" fill="#7f9ae8" opacity="0.45"/><circle cx="151.5" cy="375.3" r="0.7" fill="#7f9ae8" opacity="0.45"/><circle cx="153.5" cy="384.2" r="0.7" fill="#7f9ae8" opacity="0.45"/><circle cx="150.7" cy="377.8" r="0.7" fill="#7f9ae8" opacity="0.45"/><circle cx="157.9" cy="380.3" r="0.7" fill="#7f9ae8" opacity="0.45"/><circle cx="152.2" cy="377.9" r="0.7" fill="#7f9ae8" opacity="0.45"/><circle cx="152.7" cy="374.2" r="0.7" fill="#7f9ae8" opacity="0.45"/><circle cx="154.7" cy="382.2" r="0.7" fill="#7f9ae8" opacity="0.45"/><circle cx="154.0" cy="386.5" r="0.7" fill="#7f9ae8" opacity="0.45"/><circle cx="154.8" cy="378.4" r="0.7" fill="#7f9ae8" opacity="0.45"/><circle cx="155.8" cy="367.4" r="0.7" fill="#7f9ae8" opacity="0.45"/><circle cx="151.9" cy="383.5" r="0.7" fill="#7f9ae8" opacity="0.45"/><circle cx="151.2" cy="380.7" r="0.7" fill="#7f9ae8" opacity="0.45"/><circle cx="150.5" cy="375.6" r="0.7" fill="#7f9ae8" opacity="0.45"/><circle cx="154.6" cy="383.4" r="0.7" fill="#7f9ae8" opacity="0.45"/><circle cx="150.8" cy="374.7" r="0.7" fill="#7f9ae8" opacity="0.45"/><circle cx="153.8" cy="375.6" r="0.7" fill="#7f9ae8" opacity="0.45"/><circle cx="147.8" cy="375.4" r="0.7" fill="#7f9ae8" opacity="0.45"/><circle cx="157.5" cy="383.2" r="0.7" fill="#7f9ae8" opacity="0.45"/><circle cx="150.6" cy="385.0" r="0.7" fill="#7f9ae8" opacity="0.45"/><circle cx="152.2" cy="368.8" r="0.7" fill="#7f9ae8" opacity="0.45"/><circle cx="148.6" cy="373.2" r="0.7" fill="#7f9ae8" opacity="0.45"/><circle cx="152.4" cy="376.9" r="0.7" fill="#7f9ae8" opacity="0.45"/><circle cx="153.9" cy="375.0" r="0.7" fill="#7f9ae8" opacity="0.45"/><circle cx="152.5" cy="371.4" r="0.7" fill="#7f9ae8" opacity="0.45"/><circle cx="152.4" cy="369.7" r="0.7" fill="#7f9ae8" opacity="0.45"/><circle cx="143.7" cy="378.6" r="0.7" fill="#8aa2ea" opacity="0.4"/><circle cx="145.2" cy="378.4" r="0.7" fill="#8aa2ea" opacity="0.4"/><circle cx="144.4" cy="384.7" r="0.7" fill="#8aa2ea" opacity="0.4"/><circle cx="142.5" cy="386.4" r="0.7" fill="#8aa2ea" opacity="0.4"/><circle cx="139.2" cy="387.4" r="0.7" fill="#8aa2ea" opacity="0.4"/><circle cx="143.6" cy="379.2" r="0.7" fill="#8aa2ea" opacity="0.4"/><circle cx="148.5" cy="379.0" r="0.7" fill="#8aa2ea" opacity="0.4"/><circle cx="148.7" cy="378.2" r="0.7" fill="#8aa2ea" opacity="0.4"/><circle cx="136.2" cy="389.2" r="0.7" fill="#8aa2ea" opacity="0.4"/><circle cx="145.1" cy="375.8" r="0.7" fill="#8aa2ea" opacity="0.4"/><circle cx="145.2" cy="387.1" r="0.7" fill="#8aa2ea" opacity="0.4"/><circle cx="142.3" cy="386.2" r="0.7" fill="#8aa2ea" opacity="0.4"/><circle cx="145.0" cy="385.6" r="0.7" fill="#8aa2ea" opacity="0.4"/><circle cx="151.3" cy="375.6" r="0.7" fill="#8aa2ea" opacity="0.4"/><circle cx="140.8" cy="389.9" r="0.7" fill="#8aa2ea" opacity="0.4"/><circle cx="138.7" cy="388.7" r="0.7" fill="#8aa2ea" opacity="0.4"/><circle cx="142.6" cy="381.9" r="0.7" fill="#8aa2ea" opacity="0.4"/><circle cx="146.0" cy="369.2" r="0.7" fill="#8aa2ea" opacity="0.4"/><circle cx="150.5" cy="376.5" r="0.7" fill="#8aa2ea" opacity="0.4"/><circle cx="141.8" cy="384.8" r="0.7" fill="#8aa2ea" opacity="0.4"/><circle cx="146.3" cy="371.3" r="0.7" fill="#8aa2ea" opacity="0.4"/><circle cx="138.5" cy="388.8" r="0.7" fill="#8aa2ea" opacity="0.4"/><circle cx="150.2" cy="369.6" r="0.7" fill="#8aa2ea" opacity="0.4"/><circle cx="149.1" cy="378.3" r="0.7" fill="#8aa2ea" opacity="0.4"/><circle cx="153.1" cy="375.3" r="0.7" fill="#8aa2ea" opacity="0.4"/><ellipse cx="150.9" cy="369" rx="9.214999999999998" ry="5.760000000000001" transform="rotate(-8,150.9,369)" fill="#b8c8f4" opacity="0.44999999999999996"/><ellipse cx="151.4" cy="369.8" rx="6.305" ry="3.5200000000000005" transform="rotate(-8,150.9,369)" fill="#5a84e6" opacity="0.55"/><circle cx="149.6" cy="367.9" r="0.8" fill="#3a64d8" opacity="0.6"/><circle cx="152.4" cy="372.1" r="0.8" fill="#3a64d8" opacity="0.6"/><circle cx="153.7" cy="366.7" r="0.8" fill="#3a64d8" opacity="0.6"/><circle cx="151.3" cy="369.7" r="0.8" fill="#3a64d8" opacity="0.6"/><circle cx="156.0" cy="372.1" r="0.8" fill="#3a64d8" opacity="0.6"/><circle cx="152.9" cy="372.4" r="0.8" fill="#3a64d8" opacity="0.6"/><circle cx="149.4" cy="373.1" r="0.8" fill="#3a64d8" opacity="0.6"/><circle cx="149.4" cy="370.3" r="0.8" fill="#3a64d8" opacity="0.6"/><circle cx="154.5" cy="367.3" r="0.8" fill="#3a64d8" opacity="0.6"/><circle cx="148.4" cy="365.7" r="0.8" fill="#3a64d8" opacity="0.6"/><circle cx="151.3" cy="369.4" r="0.8" fill="#3a64d8" opacity="0.6"/><circle cx="149.8" cy="370.6" r="0.8" fill="#3a64d8" opacity="0.6"/><circle cx="143.8" cy="369.5" r="0.8" fill="#3a64d8" opacity="0.6"/><circle cx="151.1" cy="369.1" r="0.8" fill="#3a64d8" opacity="0.6"/><circle cx="153.7" cy="373.3" r="0.8" fill="#3a64d8" opacity="0.6"/><circle cx="149.2" cy="367.2" r="0.8" fill="#3a64d8" opacity="0.6"/><circle cx="148.8" cy="369.7" r="0.8" fill="#3a64d8" opacity="0.6"/><circle cx="153.2" cy="367.4" r="0.8" fill="#3a64d8" opacity="0.6"/><circle cx="154.7" cy="367.1" r="0.8" fill="#3a64d8" opacity="0.6"/><circle cx="154.1" cy="370.5" r="0.8" fill="#3a64d8" opacity="0.6"/><circle cx="152.4" cy="373.8" r="0.8" fill="#3a64d8" opacity="0.6"/><circle cx="150.2" cy="369.2" r="0.8" fill="#3a64d8" opacity="0.6"/><circle cx="152.7" cy="371.6" r="0.8" fill="#3a64d8" opacity="0.6"/><circle cx="145.7" cy="370.2" r="0.8" fill="#3a64d8" opacity="0.6"/><circle cx="148.0" cy="371.0" r="0.8" fill="#3a64d8" opacity="0.6"/><circle cx="156.2" cy="369.6" r="0.8" fill="#3a64d8" opacity="0.6"/><circle cx="150.6" cy="369.8" r="0.8" fill="#3a64d8" opacity="0.6"/><circle cx="143.5" cy="370.7" r="0.8" fill="#3a64d8" opacity="0.6"/><circle cx="152.8" cy="369.9" r="0.8" fill="#3a64d8" opacity="0.6"/><circle cx="149.4" cy="367.8" r="0.8" fill="#3a64d8" opacity="0.6"/><circle cx="150.2" cy="372.4" r="0.8" fill="#3a64d8" opacity="0.6"/><circle cx="150.5" cy="372.7" r="0.8" fill="#3a64d8" opacity="0.6"/><ellipse cx="155.5" cy="384.48499999999996" rx="5.609999999999999" ry="2.07" transform="rotate(-12,155.5,386.9)" fill="#2f78cc"/><ellipse cx="155.5" cy="386.55499999999995" rx="5.28" ry="2.415" transform="rotate(-12,155.5,386.9)" fill="#9ab8ee" opacity="0.6"/><ellipse cx="140" cy="389.6" rx="9.0" ry="5.6" transform="rotate(-30,140,389.6)" fill="url(#gG1)"/></g>
<ellipse cx="150.9" cy="369" rx="9.7" ry="6.4" transform="rotate(-8,150.9,369)" fill="none" stroke="#8c8ca8" stroke-width="0.7"/>
<ellipse cx="155.5" cy="386.9" rx="6.6" ry="6.9" transform="rotate(0,155.5,386.9)" fill="none" stroke="#8c8ca8" stroke-width="0.7"/>
<ellipse cx="140" cy="389.6" rx="9.0" ry="5.6" transform="rotate(-30,140,389.6)" fill="none" stroke="#8c8ca8" stroke-width="0.7"/>
<text x="123.6" y="352.7" font-size="3.4" fill="#333" text-anchor="end" >10⁵</text>
<line x1="126.1" y1="351.7" x2="127.6" y2="351.7" stroke="#555" stroke-width="0.5"/>
<text x="123.6" y="366.7" font-size="3.4" fill="#333" text-anchor="end" >10⁴</text>
<line x1="126.1" y1="365.7" x2="127.6" y2="365.7" stroke="#555" stroke-width="0.5"/>
<text x="123.6" y="383.7" font-size="3.4" fill="#333" text-anchor="end" >10³</text>
<line x1="126.1" y1="382.7" x2="127.6" y2="382.7" stroke="#555" stroke-width="0.5"/>
<text x="123.6" y="398.4" font-size="3.4" fill="#333" text-anchor="end" >10²</text>
<line x1="126.1" y1="397.4" x2="127.6" y2="397.4" stroke="#555" stroke-width="0.5"/>
<text x="123.6" y="406.3" font-size="3.4" fill="#333" text-anchor="end" >0</text>
<line x1="126.1" y1="405.3" x2="127.6" y2="405.3" stroke="#555" stroke-width="0.5"/>
<text x="128.6" y="418.8" font-size="2.8" fill="#444" text-anchor="middle" >0</text>
<text x="141.68" y="418.8" font-size="2.8" fill="#444" text-anchor="middle" >50K</text>
<text x="154.76" y="418.8" font-size="2.8" fill="#444" text-anchor="middle" >100K</text>
<text x="167.84" y="418.8" font-size="2.8" fill="#444" text-anchor="middle" >150K</text>
<text x="180.92000000000002" y="418.8" font-size="2.8" fill="#444" text-anchor="middle" >200K</text>
<text x="194.0" y="418.8" font-size="2.8" fill="#444" text-anchor="middle" >250K</text>
<text x="161.8" y="424.5" font-size="2.8" fill="#666" text-anchor="middle" >Comp-PI-A</text>
<g transform="translate(116.6,378.55) rotate(-90)"><text x="0" y="0" font-size="2.8" fill="#666" text-anchor="middle">Comp-FITC-A</text></g>
<text x="163.6" y="363.5" font-size="6.4" fill="#222" text-anchor="start" textLength="3.8" lengthAdjust="spacingAndGlyphs" >S</text>
<text x="163.6" y="371.4" font-size="6.4" fill="#222" text-anchor="start" textLength="16.4" lengthAdjust="spacingAndGlyphs" >8.24%</text>
<text x="131.5" y="403" font-size="6.4" fill="#222" text-anchor="start" textLength="6.5" lengthAdjust="spacingAndGlyphs" >G1</text>
<text x="131.5" y="411.4" font-size="6.4" fill="#222" text-anchor="start" textLength="17" lengthAdjust="spacingAndGlyphs" >73.5%</text>
<text x="152.5" y="400.1" font-size="6.4" fill="#222" text-anchor="start" textLength="15.2" lengthAdjust="spacingAndGlyphs" >G2-M</text>
<text x="152.5" y="407.6" font-size="6.4" fill="#222" text-anchor="start" textLength="16.8" lengthAdjust="spacingAndGlyphs" >8.72%</text>
<rect x="214.9" y="345.8" width="67.20000000000002" height="66.19999999999999" fill="none" stroke="#555" stroke-width="0.8"/>
<text x="222.6" y="340.4" font-size="12" fill="#111" text-anchor="start" textLength="53.8" lengthAdjust="spacingAndGlyphs" >TET1-shC</text>
<g filter="url(#eb)"><circle cx="247.1" cy="378.2" r="0.7" fill="#7f9ae8" opacity="0.45"/><circle cx="237.0" cy="369.5" r="0.7" fill="#7f9ae8" opacity="0.45"/><circle cx="241.0" cy="383.9" r="0.7" fill="#7f9ae8" opacity="0.45"/><circle cx="239.3" cy="381.6" r="0.7" fill="#7f9ae8" opacity="0.45"/><circle cx="244.1" cy="382.2" r="0.7" fill="#7f9ae8" opacity="0.45"/><circle cx="239.3" cy="383.4" r="0.7" fill="#7f9ae8" opacity="0.45"/><circle cx="237.4" cy="382.8" r="0.7" fill="#7f9ae8" opacity="0.45"/><circle cx="238.4" cy="375.5" r="0.7" fill="#7f9ae8" opacity="0.45"/><circle cx="239.5" cy="371.3" r="0.7" fill="#7f9ae8" opacity="0.45"/><circle cx="238.4" cy="387.5" r="0.7" fill="#7f9ae8" opacity="0.45"/><circle cx="240.7" cy="374.8" r="0.7" fill="#7f9ae8" opacity="0.45"/><circle cx="244.9" cy="372.0" r="0.7" fill="#7f9ae8" opacity="0.45"/><circle cx="237.8" cy="378.1" r="0.7" fill="#7f9ae8" opacity="0.45"/><circle cx="240.9" cy="375.3" r="0.7" fill="#7f9ae8" opacity="0.45"/><circle cx="239.2" cy="376.5" r="0.7" fill="#7f9ae8" opacity="0.45"/><circle cx="242.4" cy="379.1" r="0.7" fill="#7f9ae8" opacity="0.45"/><circle cx="239.7" cy="386.0" r="0.7" fill="#7f9ae8" opacity="0.45"/><circle cx="234.8" cy="371.3" r="0.7" fill="#7f9ae8" opacity="0.45"/><circle cx="240.9" cy="374.9" r="0.7" fill="#7f9ae8" opacity="0.45"/><circle cx="242.8" cy="385.7" r="0.7" fill="#7f9ae8" opacity="0.45"/><circle cx="240.2" cy="386.5" r="0.7" fill="#7f9ae8" opacity="0.45"/><circle cx="241.4" cy="370.6" r="0.7" fill="#7f9ae8" opacity="0.45"/><circle cx="240.9" cy="383.2" r="0.7" fill="#7f9ae8" opacity="0.45"/><circle cx="237.0" cy="371.9" r="0.7" fill="#7f9ae8" opacity="0.45"/><circle cx="241.7" cy="382.8" r="0.7" fill="#7f9ae8" opacity="0.45"/><circle cx="239.8" cy="386.7" r="0.7" fill="#7f9ae8" opacity="0.45"/><circle cx="241.9" cy="383.5" r="0.7" fill="#7f9ae8" opacity="0.45"/><circle cx="241.5" cy="373.1" r="0.7" fill="#7f9ae8" opacity="0.45"/><circle cx="237.3" cy="383.6" r="0.7" fill="#7f9ae8" opacity="0.45"/><circle cx="238.8" cy="374.8" r="0.7" fill="#7f9ae8" opacity="0.45"/><circle cx="237.8" cy="382.1" r="0.7" fill="#7f9ae8" opacity="0.45"/><circle cx="242.6" cy="376.0" r="0.7" fill="#7f9ae8" opacity="0.45"/><circle cx="239.1" cy="369.7" r="0.7" fill="#7f9ae8" opacity="0.45"/><circle cx="239.1" cy="378.0" r="0.7" fill="#7f9ae8" opacity="0.45"/><circle cx="245.5" cy="378.1" r="0.7" fill="#7f9ae8" opacity="0.45"/><circle cx="241.2" cy="379.7" r="0.7" fill="#7f9ae8" opacity="0.45"/><circle cx="240.2" cy="379.7" r="0.7" fill="#7f9ae8" opacity="0.45"/><circle cx="241.2" cy="371.7" r="0.7" fill="#7f9ae8" opacity="0.45"/><circle cx="243.9" cy="384.4" r="0.7" fill="#7f9ae8" opacity="0.45"/><circle cx="237.7" cy="376.8" r="0.7" fill="#7f9ae8" opacity="0.45"/><circle cx="238.9" cy="378.4" r="0.7" fill="#7f9ae8" opacity="0.45"/><circle cx="240.4" cy="374.7" r="0.7" fill="#7f9ae8" opacity="0.45"/><circle cx="240.8" cy="380.7" r="0.7" fill="#7f9ae8" opacity="0.45"/><circle cx="241.4" cy="372.4" r="0.7" fill="#7f9ae8" opacity="0.45"/><circle cx="240.0" cy="378.9" r="0.7" fill="#7f9ae8" opacity="0.45"/><circle cx="240.7" cy="386.6" r="0.7" fill="#7f9ae8" opacity="0.45"/><circle cx="238.4" cy="376.7" r="0.7" fill="#7f9ae8" opacity="0.45"/><circle cx="242.1" cy="376.0" r="0.7" fill="#7f9ae8" opacity="0.45"/><circle cx="235.7" cy="374.6" r="0.7" fill="#8aa2ea" opacity="0.4"/><circle cx="231.2" cy="387.7" r="0.7" fill="#8aa2ea" opacity="0.4"/><circle cx="235.5" cy="381.8" r="0.7" fill="#8aa2ea" opacity="0.4"/><circle cx="231.9" cy="383.1" r="0.7" fill="#8aa2ea" opacity="0.4"/><circle cx="236.4" cy="374.4" r="0.7" fill="#8aa2ea" opacity="0.4"/><circle cx="227.6" cy="388.1" r="0.7" fill="#8aa2ea" opacity="0.4"/><circle cx="234.2" cy="369.9" r="0.7" fill="#8aa2ea" opacity="0.4"/><circle cx="231.6" cy="381.2" r="0.7" fill="#8aa2ea" opacity="0.4"/><circle cx="231.5" cy="382.8" r="0.7" fill="#8aa2ea" opacity="0.4"/><circle cx="238.3" cy="375.8" r="0.7" fill="#8aa2ea" opacity="0.4"/><circle cx="232.0" cy="381.2" r="0.7" fill="#8aa2ea" opacity="0.4"/><circle cx="228.4" cy="380.2" r="0.7" fill="#8aa2ea" opacity="0.4"/><circle cx="236.1" cy="369.9" r="0.7" fill="#8aa2ea" opacity="0.4"/><circle cx="229.5" cy="386.3" r="0.7" fill="#8aa2ea" opacity="0.4"/><circle cx="230.7" cy="387.5" r="0.7" fill="#8aa2ea" opacity="0.4"/><circle cx="231.6" cy="381.4" r="0.7" fill="#8aa2ea" opacity="0.4"/><circle cx="228.0" cy="385.0" r="0.7" fill="#8aa2ea" opacity="0.4"/><circle cx="237.8" cy="371.4" r="0.7" fill="#8aa2ea" opacity="0.4"/><circle cx="236.1" cy="373.4" r="0.7" fill="#8aa2ea" opacity="0.4"/><circle cx="225.4" cy="383.4" r="0.7" fill="#8aa2ea" opacity="0.4"/><circle cx="227.4" cy="384.7" r="0.7" fill="#8aa2ea" opacity="0.4"/><circle cx="227.4" cy="379.1" r="0.7" fill="#8aa2ea" opacity="0.4"/><circle cx="231.0" cy="384.6" r="0.7" fill="#8aa2ea" opacity="0.4"/><circle cx="236.5" cy="373.2" r="0.7" fill="#8aa2ea" opacity="0.4"/><circle cx="238.5" cy="372.2" r="0.7" fill="#8aa2ea" opacity="0.4"/><ellipse cx="237.9" cy="369.5" rx="9.214999999999998" ry="6.12" transform="rotate(-10,237.9,369.5)" fill="#b8c8f4" opacity="0.31"/><ellipse cx="238.4" cy="370.3" rx="6.305" ry="3.74" transform="rotate(-10,237.9,369.5)" fill="#5a84e6" opacity="0.41000000000000003"/><circle cx="239.6" cy="370.2" r="0.8" fill="#3a64d8" opacity="0.6"/><circle cx="238.2" cy="370.0" r="0.8" fill="#3a64d8" opacity="0.6"/><circle cx="239.7" cy="369.3" r="0.8" fill="#3a64d8" opacity="0.6"/><circle cx="237.8" cy="369.0" r="0.8" fill="#3a64d8" opacity="0.6"/><circle cx="240.8" cy="373.4" r="0.8" fill="#3a64d8" opacity="0.6"/><circle cx="241.0" cy="371.3" r="0.8" fill="#3a64d8" opacity="0.6"/><circle cx="243.3" cy="368.0" r="0.8" fill="#3a64d8" opacity="0.6"/><circle cx="243.5" cy="366.6" r="0.8" fill="#3a64d8" opacity="0.6"/><circle cx="240.7" cy="370.4" r="0.8" fill="#3a64d8" opacity="0.6"/><circle cx="239.5" cy="366.2" r="0.8" fill="#3a64d8" opacity="0.6"/><circle cx="242.6" cy="370.7" r="0.8" fill="#3a64d8" opacity="0.6"/><circle cx="238.4" cy="372.8" r="0.8" fill="#3a64d8" opacity="0.6"/><circle cx="238.3" cy="370.2" r="0.8" fill="#3a64d8" opacity="0.6"/><circle cx="241.4" cy="369.9" r="0.8" fill="#3a64d8" opacity="0.6"/><circle cx="239.2" cy="369.2" r="0.8" fill="#3a64d8" opacity="0.6"/><circle cx="236.0" cy="370.1" r="0.8" fill="#3a64d8" opacity="0.6"/><circle cx="235.8" cy="370.7" r="0.8" fill="#3a64d8" opacity="0.6"/><circle cx="237.1" cy="368.8" r="0.8" fill="#3a64d8" opacity="0.6"/><circle cx="237.5" cy="366.9" r="0.8" fill="#3a64d8" opacity="0.6"/><circle cx="240.8" cy="371.6" r="0.8" fill="#3a64d8" opacity="0.6"/><circle cx="230.6" cy="370.1" r="0.8" fill="#3a64d8" opacity="0.6"/><circle cx="236.4" cy="371.4" r="0.8" fill="#3a64d8" opacity="0.6"/><circle cx="244.9" cy="369.1" r="0.8" fill="#3a64d8" opacity="0.6"/><circle cx="237.5" cy="368.0" r="0.8" fill="#3a64d8" opacity="0.6"/><ellipse cx="242.5" cy="385.29" rx="5.609999999999999" ry="1.9799999999999998" transform="rotate(-12,242.5,387.6)" fill="#2f78cc"/><ellipse cx="242.5" cy="387.27000000000004" rx="5.28" ry="2.3099999999999996" transform="rotate(-12,242.5,387.6)" fill="#9ab8ee" opacity="0.6"/><ellipse cx="227" cy="389.8" rx="8.8" ry="6.0" transform="rotate(-30,227,389.8)" fill="url(#gG1)"/></g>
<ellipse cx="237.9" cy="369.5" rx="9.7" ry="6.8" transform="rotate(-10,237.9,369.5)" fill="none" stroke="#8c8ca8" stroke-width="0.7"/>
<ellipse cx="242.5" cy="387.6" rx="6.6" ry="6.6" transform="rotate(0,242.5,387.6)" fill="none" stroke="#8c8ca8" stroke-width="0.7"/>
<ellipse cx="227" cy="389.8" rx="8.8" ry="6.0" transform="rotate(-30,227,389.8)" fill="none" stroke="#8c8ca8" stroke-width="0.7"/>
<text x="210.9" y="352.7" font-size="3.4" fill="#333" text-anchor="end" >10⁵</text>
<line x1="213.4" y1="351.7" x2="214.9" y2="351.7" stroke="#555" stroke-width="0.5"/>
<text x="210.9" y="366.7" font-size="3.4" fill="#333" text-anchor="end" >10⁴</text>
<line x1="213.4" y1="365.7" x2="214.9" y2="365.7" stroke="#555" stroke-width="0.5"/>
<text x="210.9" y="383.7" font-size="3.4" fill="#333" text-anchor="end" >10³</text>
<line x1="213.4" y1="382.7" x2="214.9" y2="382.7" stroke="#555" stroke-width="0.5"/>
<text x="210.9" y="398.4" font-size="3.4" fill="#333" text-anchor="end" >10²</text>
<line x1="213.4" y1="397.4" x2="214.9" y2="397.4" stroke="#555" stroke-width="0.5"/>
<text x="210.9" y="406.3" font-size="3.4" fill="#333" text-anchor="end" >0</text>
<line x1="213.4" y1="405.3" x2="214.9" y2="405.3" stroke="#555" stroke-width="0.5"/>
<text x="215.9" y="418.8" font-size="2.8" fill="#444" text-anchor="middle" >0</text>
<text x="228.74" y="418.8" font-size="2.8" fill="#444" text-anchor="middle" >50K</text>
<text x="241.58" y="418.8" font-size="2.8" fill="#444" text-anchor="middle" >100K</text>
<text x="254.42000000000002" y="418.8" font-size="2.8" fill="#444" text-anchor="middle" >150K</text>
<text x="267.26" y="418.8" font-size="2.8" fill="#444" text-anchor="middle" >200K</text>
<text x="280.1" y="418.8" font-size="2.8" fill="#444" text-anchor="middle" >250K</text>
<text x="248.5" y="424.5" font-size="2.8" fill="#666" text-anchor="middle" >Comp-PI-A</text>
<g transform="translate(203.9,378.9) rotate(-90)"><text x="0" y="0" font-size="2.8" fill="#666" text-anchor="middle">Comp-FITC-A</text></g>
<text x="250.4" y="363" font-size="6.4" fill="#222" text-anchor="start" textLength="3.8" lengthAdjust="spacingAndGlyphs" >S</text>
<text x="250.4" y="370.7" font-size="6.4" fill="#222" text-anchor="start" textLength="17.4" lengthAdjust="spacingAndGlyphs" >5.29%</text>
<text x="217.6" y="403" font-size="6.4" fill="#222" text-anchor="start" textLength="6.5" lengthAdjust="spacingAndGlyphs" >G1</text>
<text x="217.6" y="411.4" font-size="6.4" fill="#222" text-anchor="start" textLength="17.7" lengthAdjust="spacingAndGlyphs" >82.9%</text>
<text x="239.8" y="400.5" font-size="6.4" fill="#222" text-anchor="start" textLength="15.8" lengthAdjust="spacingAndGlyphs" >G2-M</text>
<text x="239.8" y="407.6" font-size="6.4" fill="#222" text-anchor="start" textLength="17.4" lengthAdjust="spacingAndGlyphs" >5.69%</text>
<g transform="translate(24,426) rotate(-90)"><text x="0" y="0" font-size="12" fill="#111" textLength="54.8" lengthAdjust="spacingAndGlyphs">EdU-FITC</text></g>
<line x1="18.7" y1="368.6" x2="18.7" y2="348" stroke="#111" stroke-width="1.2"/><path d="M16.2,349 L18.7,342.5 L21.2,349 Z" fill="#111"/>
<text x="30.3" y="431.5" font-size="11" fill="#111" text-anchor="start" textLength="9.6" lengthAdjust="spacingAndGlyphs" >PI</text>
<line x1="51" y1="428.2" x2="288" y2="428.2" stroke="#111" stroke-width="1.3"/><path d="M286,425.6 L293.3,428.2 L286,430.8 Z" fill="#111"/>
<text x="370.4" y="218" font-size="10" fill="#e02828" text-anchor="start" textLength="31.1" lengthAdjust="spacingAndGlyphs" >20 min</text>
<text x="433.5" y="218" font-size="10" fill="#2db36a" text-anchor="start" textLength="31.1" lengthAdjust="spacingAndGlyphs" >25 min</text>
<line x1="355" y1="220.3" x2="355" y2="228.8" stroke="#111" stroke-width="1.4"/>
<line x1="416.6" y1="220.3" x2="416.6" y2="228.8" stroke="#111" stroke-width="1.4"/>
<line x1="488.8" y1="220.3" x2="488.8" y2="228.8" stroke="#111" stroke-width="1.4"/>
<line x1="355" y1="224.6" x2="488.8" y2="224.6" stroke="#111" stroke-width="1.4"/>
<path d="M411.5,222.3 L416.3,224.6 L411.5,226.9 Z" fill="#111"/><path d="M483.7,222.3 L488.5,224.6 L483.7,226.9 Z" fill="#111"/>
<rect x="355" y="232.3" width="61.6" height="4.6" fill="#ea1c24"/>
<rect x="416.6" y="232.3" width="72.2" height="4.6" fill="#20b24a"/>
<path d="M355.4,240.2 L352.9,244.2 L357.9,244.2 Z" fill="none" stroke="#111" stroke-width="1.1"/>
<path d="M416.6,240.2 L414.1,244.2 L419.1,244.2 Z" fill="none" stroke="#111" stroke-width="1.1"/>
<text x="353.2" y="255" font-size="11" fill="#e8303a" text-anchor="start" textLength="16.2" lengthAdjust="spacingAndGlyphs" >IdU</text>
<text x="412.4" y="255" font-size="11" fill="#2db36a" text-anchor="start" textLength="26.6" lengthAdjust="spacingAndGlyphs" >CldU</text>
<line x1="358" y1="268" x2="358" y2="370.8" stroke="#222" stroke-width="1.3"/>
<line x1="358" y1="370.8" x2="514" y2="370.8" stroke="#222" stroke-width="1.3"/>
<line x1="355.5" y1="370.8" x2="358" y2="370.8" stroke="#222" stroke-width="1"/>
<text x="355" y="374.1" font-size="9" font-weight="bold" fill="#111" text-anchor="end" textLength="4.5" lengthAdjust="spacingAndGlyphs" >0</text>
<line x1="355.5" y1="350.3" x2="358" y2="350.3" stroke="#222" stroke-width="1"/>
<text x="355" y="353.56" font-size="9" font-weight="bold" fill="#111" text-anchor="end" textLength="10.5" lengthAdjust="spacingAndGlyphs" >20</text>
<line x1="355.5" y1="329.7" x2="358" y2="329.7" stroke="#222" stroke-width="1"/>
<text x="355" y="333.02000000000004" font-size="9" font-weight="bold" fill="#111" text-anchor="end" textLength="10.5" lengthAdjust="spacingAndGlyphs" >40</text>
<line x1="355.5" y1="309.2" x2="358" y2="309.2" stroke="#222" stroke-width="1"/>
<text x="355" y="312.48" font-size="9" font-weight="bold" fill="#111" text-anchor="end" textLength="10.5" lengthAdjust="spacingAndGlyphs" >60</text>
<line x1="355.5" y1="288.6" x2="358" y2="288.6" stroke="#222" stroke-width="1"/>
<text x="355" y="291.94" font-size="9" font-weight="bold" fill="#111" text-anchor="end" textLength="10.5" lengthAdjust="spacingAndGlyphs" >80</text>
<line x1="355.5" y1="268.1" x2="358" y2="268.1" stroke="#222" stroke-width="1"/>
<text x="355" y="271.40000000000003" font-size="9" font-weight="bold" fill="#111" text-anchor="end" textLength="16.3" lengthAdjust="spacingAndGlyphs" >100</text>
<g transform="translate(336.3,319.8) rotate(-90)"><text x="0" y="0" font-size="8.5" font-weight="bold" fill="#111" text-anchor="middle" textLength="95" lengthAdjust="spacingAndGlyphs">% of IdU/CldU labeled</text></g>
<rect x="362.6" y="285.0" width="9.0" height="85.8" fill="#3b2a86"/>
<line x1="367.2" y1="283.5" x2="367.2" y2="285.0" stroke="#3b2a86" stroke-width="1"/>
<line x1="364.8" y1="283.5" x2="369.8" y2="283.5" stroke="#3b2a86" stroke-width="1"/>
<rect x="371.9" y="303.5" width="9.0" height="67.3" fill="#f7936f"/>
<line x1="376.6" y1="303.1" x2="376.6" y2="303.5" stroke="#f7936f" stroke-width="1"/>
<line x1="374.1" y1="303.1" x2="379.1" y2="303.1" stroke="#f7936f" stroke-width="1"/>
<rect x="381.2" y="310.2" width="9.0" height="60.6" fill="#4f8c80"/>
<line x1="385.9" y1="307.9" x2="385.9" y2="310.2" stroke="#4f8c80" stroke-width="1"/>
<line x1="383.4" y1="307.9" x2="388.4" y2="307.9" stroke="#4f8c80" stroke-width="1"/>
<line x1="376.6" y1="370.8" x2="376.6" y2="373.8" stroke="#222" stroke-width="1"/>
<rect x="401.3" y="363.8" width="9.0" height="7.0" fill="#3b2a86"/>
<line x1="405.9" y1="363.2" x2="405.9" y2="363.8" stroke="#3b2a86" stroke-width="1"/>
<line x1="403.4" y1="363.2" x2="408.4" y2="363.2" stroke="#3b2a86" stroke-width="1"/>
<rect x="410.6" y="367.7" width="9.0" height="3.1" fill="#f7936f"/>
<line x1="415.2" y1="367.3" x2="415.2" y2="367.7" stroke="#f7936f" stroke-width="1"/>
<line x1="412.8" y1="367.3" x2="417.8" y2="367.3" stroke="#f7936f" stroke-width="1"/>
<rect x="419.9" y="367.7" width="9.0" height="3.1" fill="#4f8c80"/>
<line x1="424.6" y1="367.3" x2="424.6" y2="367.7" stroke="#4f8c80" stroke-width="1"/>
<line x1="422.1" y1="367.3" x2="427.1" y2="367.3" stroke="#4f8c80" stroke-width="1"/>
<line x1="415.2" y1="370.8" x2="415.2" y2="373.8" stroke="#222" stroke-width="1"/>
<rect x="440.0" y="364.6" width="9.0" height="6.2" fill="#3b2a86"/>
<line x1="444.6" y1="364.1" x2="444.6" y2="364.6" stroke="#3b2a86" stroke-width="1"/>
<line x1="442.1" y1="364.1" x2="447.1" y2="364.1" stroke="#3b2a86" stroke-width="1"/>
<rect x="449.3" y="348.0" width="9.0" height="22.8" fill="#f7936f"/>
<line x1="453.9" y1="347.5" x2="453.9" y2="348.0" stroke="#f7936f" stroke-width="1"/>
<line x1="451.4" y1="347.5" x2="456.4" y2="347.5" stroke="#f7936f" stroke-width="1"/>
<rect x="458.6" y="340.5" width="9.0" height="30.3" fill="#4f8c80"/>
<line x1="463.2" y1="339.3" x2="463.2" y2="340.5" stroke="#4f8c80" stroke-width="1"/>
<line x1="460.8" y1="339.3" x2="465.8" y2="339.3" stroke="#4f8c80" stroke-width="1"/>
<line x1="453.9" y1="370.8" x2="453.9" y2="373.8" stroke="#222" stroke-width="1"/>
<rect x="488.5" y="367.4" width="9.0" height="3.4" fill="#f7936f"/>
<line x1="493.1" y1="366.7" x2="493.1" y2="367.4" stroke="#f7936f" stroke-width="1"/>
<line x1="490.6" y1="366.7" x2="495.6" y2="366.7" stroke="#f7936f" stroke-width="1"/>
<rect x="497.8" y="365.9" width="9.0" height="4.9" fill="#4f8c80"/>
<line x1="502.4" y1="364.3" x2="502.4" y2="365.9" stroke="#4f8c80" stroke-width="1"/>
<line x1="499.9" y1="364.3" x2="504.9" y2="364.3" stroke="#4f8c80" stroke-width="1"/>
<line x1="493.1" y1="370.8" x2="493.1" y2="373.8" stroke="#222" stroke-width="1"/>
<line x1="366.2" y1="269.5" x2="386.5" y2="269.5" stroke="#333" stroke-width="1"/>
<text x="376.6" y="268.3" font-size="6" font-weight="bold" fill="#333" text-anchor="middle" >**</text>
<line x1="366.2" y1="276.7" x2="378.4" y2="276.7" stroke="#333" stroke-width="1"/>
<text x="372.2" y="275.5" font-size="6" font-weight="bold" fill="#333" text-anchor="middle" >**</text>
<line x1="405" y1="350" x2="425" y2="350" stroke="#333" stroke-width="1"/>
<text x="415" y="348.8" font-size="6" font-weight="bold" fill="#333" text-anchor="middle" >*</text>
<line x1="405" y1="357" x2="415" y2="357" stroke="#333" stroke-width="1"/>
<text x="410" y="355.8" font-size="6" font-weight="bold" fill="#333" text-anchor="middle" >*</text>
<line x1="444.5" y1="328" x2="464.5" y2="328" stroke="#333" stroke-width="1"/>
<text x="454.5" y="326.8" font-size="6" font-weight="bold" fill="#333" text-anchor="middle" >**</text>
<line x1="444.5" y1="335" x2="455.5" y2="335" stroke="#333" stroke-width="1"/>
<text x="450" y="333.8" font-size="6" font-weight="bold" fill="#333" text-anchor="middle" >**</text>
<line x1="483" y1="352" x2="503.7" y2="352" stroke="#333" stroke-width="1"/>
<text x="493" y="350.8" font-size="6" font-weight="bold" fill="#333" text-anchor="middle" >*</text>
<line x1="483" y1="359" x2="493" y2="359" stroke="#333" stroke-width="1"/>
<text x="488" y="357.8" font-size="6" font-weight="bold" fill="#333" text-anchor="middle" >*</text>
<rect x="456.9" y="270.5" width="11.1" height="3.3" fill="#3b2a86"/>
<text x="474.6" y="274.7" font-size="7" fill="#222" text-anchor="start" textLength="16.9" lengthAdjust="spacingAndGlyphs" >shNS</text>
<rect x="456.9" y="279.2" width="11.1" height="3.3" fill="#f7936f"/>
<text x="474.6" y="283.4" font-size="7" fill="#222" text-anchor="start" textLength="33.1" lengthAdjust="spacingAndGlyphs" >TET1-shA</text>
<rect x="456.9" y="288.5" width="11.1" height="3.3" fill="#4f8c80"/>
<text x="474.6" y="292.7" font-size="7" fill="#222" text-anchor="start" textLength="33.1" lengthAdjust="spacingAndGlyphs" >TET1-shC</text>
<g transform="translate(381.2,382.8) rotate(-45)"><text x="0" y="0" font-size="9.5" font-weight="bold" fill="#111" text-anchor="end" textLength="56" lengthAdjust="spacingAndGlyphs">Ongoing fork</text></g>
<g transform="translate(420.1,382.8) rotate(-45)"><text x="0" y="0" font-size="9.5" font-weight="bold" fill="#111" text-anchor="end" textLength="69" lengthAdjust="spacingAndGlyphs">New origin firing</text></g>
<g transform="translate(457.7,382.8) rotate(-45)"><text x="0" y="0" font-size="9.5" font-weight="bold" fill="#111" text-anchor="end" textLength="49" lengthAdjust="spacingAndGlyphs">Termination</text></g>
<g transform="translate(497.5,382.8) rotate(-45)"><text x="0" y="0" font-size="9.5" font-weight="bold" fill="#111" text-anchor="end" textLength="48" lengthAdjust="spacingAndGlyphs">Stalled fork</text></g>
</svg>
</body></html>
